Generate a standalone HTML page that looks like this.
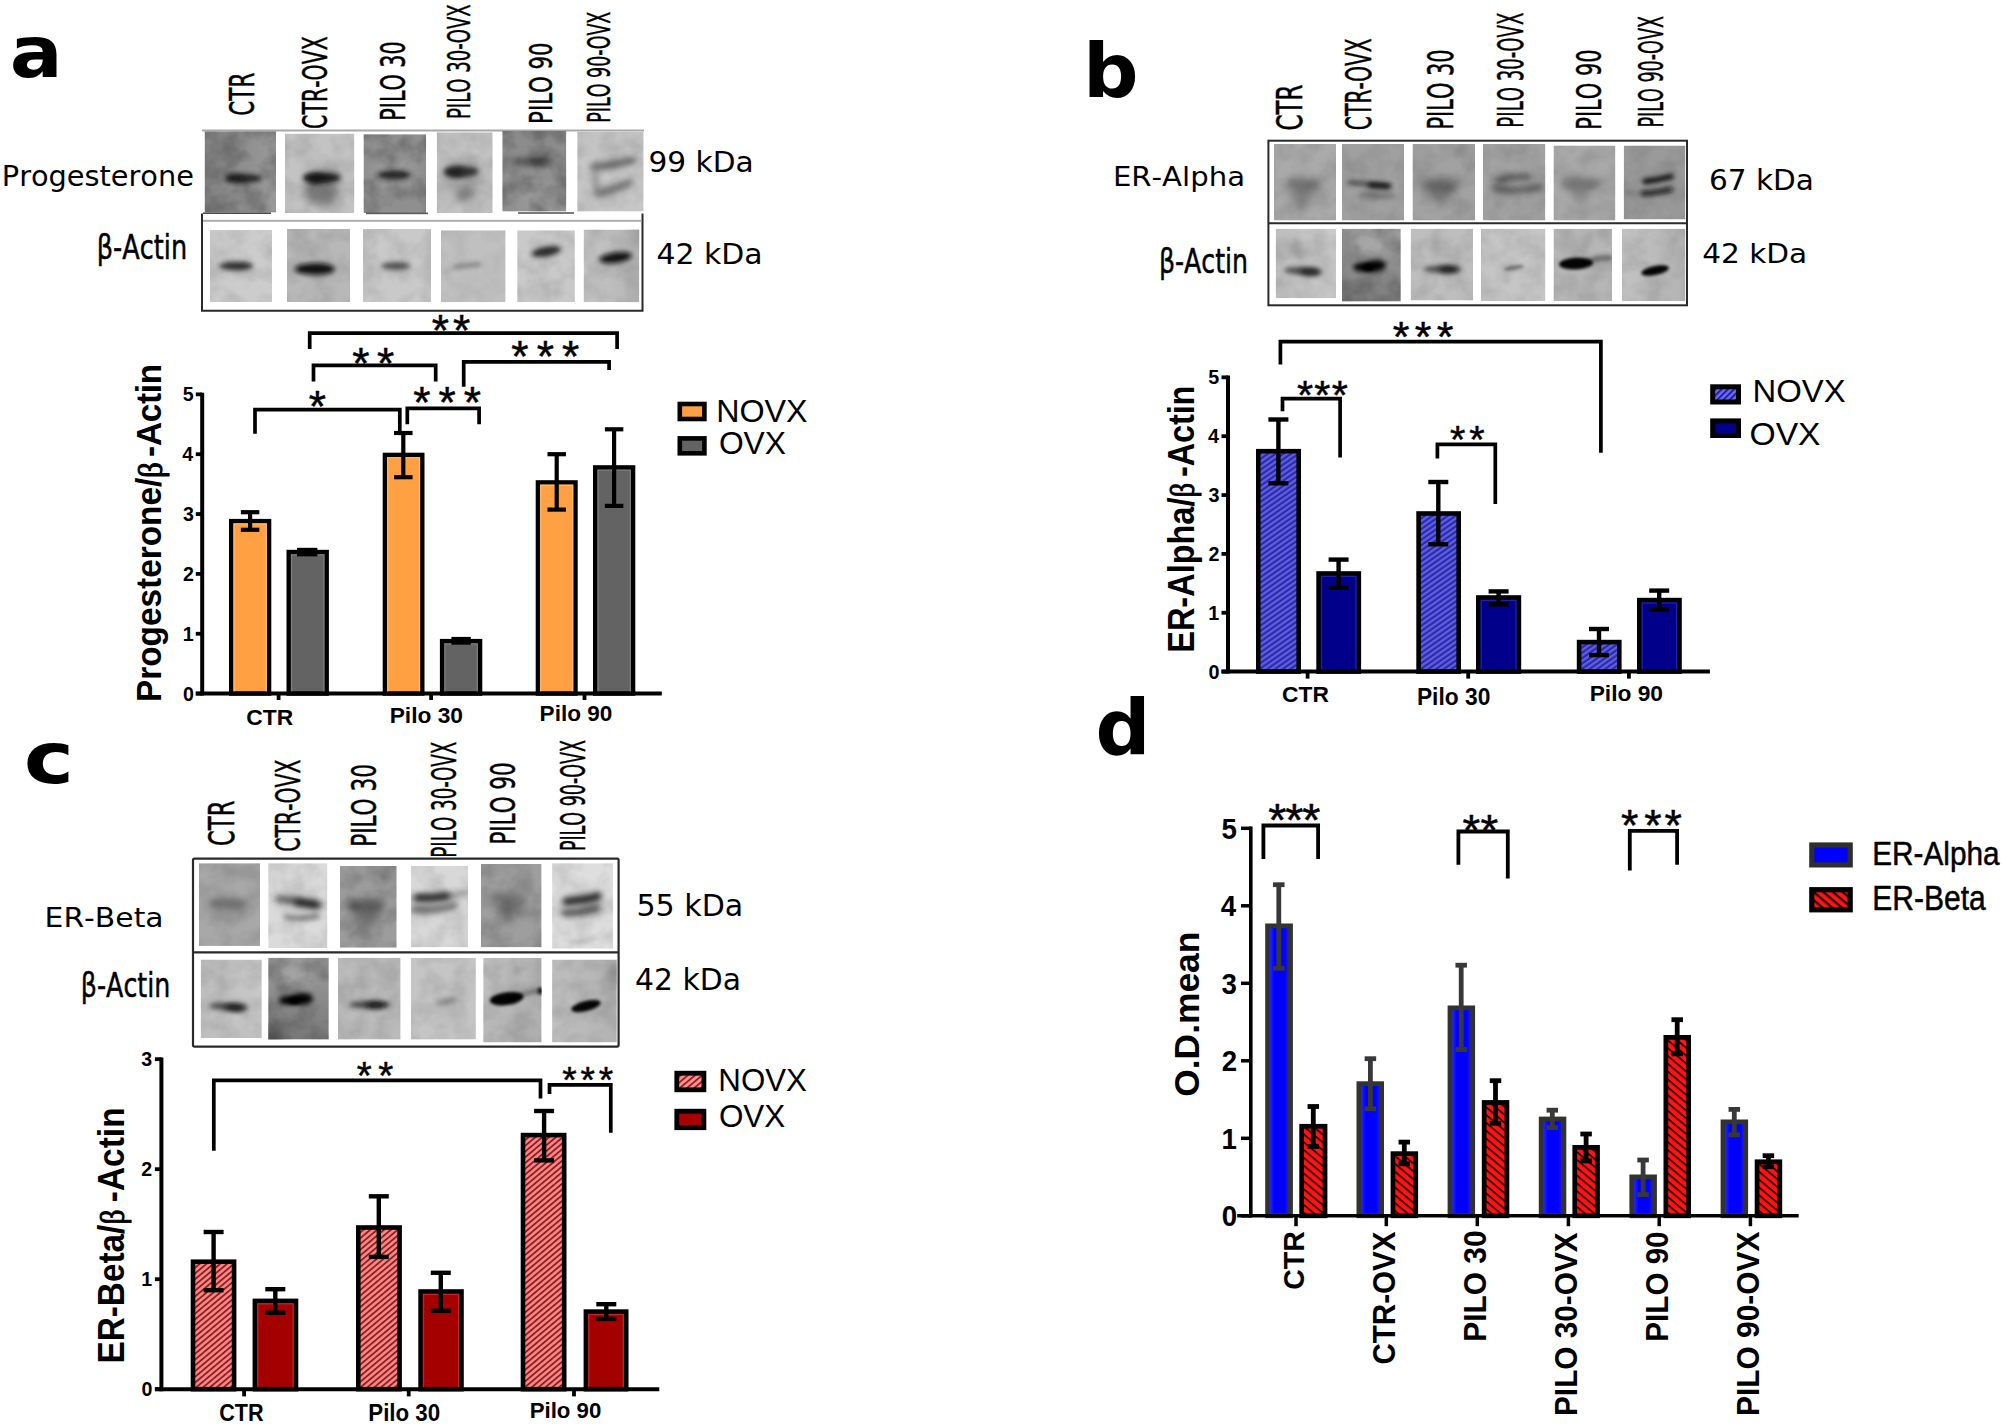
<!DOCTYPE html>
<html><head><meta charset="utf-8"><title>Figure</title>
<style>html,body{margin:0;padding:0;background:#fff;}svg{display:block;}text{font-kerning:none;font-variant-ligatures:none;white-space:pre;}</style></head>
<body>
<svg width="2004" height="1426" viewBox="0 0 2004 1426">
<defs>
<filter id="nz0" x="0" y="0" width="100%" height="100%" color-interpolation-filters="sRGB"><feTurbulence type="fractalNoise" baseFrequency="0.045 0.05" numOctaves="3" seed="2" result="t"/><feColorMatrix type="matrix" values="0 0 0 0 0  0 0 0 0 0  0 0 0 0 0  2.2 0 0 0 -0.75"/></filter>
<filter id="nz1" x="0" y="0" width="100%" height="100%" color-interpolation-filters="sRGB"><feTurbulence type="fractalNoise" baseFrequency="0.045 0.05" numOctaves="3" seed="9" result="t"/><feColorMatrix type="matrix" values="0 0 0 0 0  0 0 0 0 0  0 0 0 0 0  2.2 0 0 0 -0.75"/></filter>
<filter id="nz2" x="0" y="0" width="100%" height="100%" color-interpolation-filters="sRGB"><feTurbulence type="fractalNoise" baseFrequency="0.045 0.05" numOctaves="3" seed="16" result="t"/><feColorMatrix type="matrix" values="0 0 0 0 0  0 0 0 0 0  0 0 0 0 0  2.2 0 0 0 -0.75"/></filter>
<filter id="nz3" x="0" y="0" width="100%" height="100%" color-interpolation-filters="sRGB"><feTurbulence type="fractalNoise" baseFrequency="0.045 0.05" numOctaves="3" seed="23" result="t"/><feColorMatrix type="matrix" values="0 0 0 0 0  0 0 0 0 0  0 0 0 0 0  2.2 0 0 0 -0.75"/></filter>
<filter id="p1" x="-5%" y="-5%" width="110%" height="110%"><feGaussianBlur stdDeviation="0.8"/></filter>
<filter id="p2" x="-5%" y="-5%" width="110%" height="110%"><feGaussianBlur stdDeviation="1.6"/></filter>
<filter id="p3" x="-5%" y="-5%" width="110%" height="110%"><feGaussianBlur stdDeviation="2.4"/></filter>
<filter id="p4" x="-5%" y="-5%" width="110%" height="110%"><feGaussianBlur stdDeviation="3.2"/></filter>
<filter id="p5" x="-5%" y="-5%" width="110%" height="110%"><feGaussianBlur stdDeviation="4.0"/></filter>
<filter id="p6" x="-5%" y="-5%" width="110%" height="110%"><feGaussianBlur stdDeviation="4.8"/></filter>
<filter id="b1" x="-60%" y="-150%" width="220%" height="400%"><feGaussianBlur stdDeviation="0.8"/></filter>
<filter id="b2" x="-60%" y="-150%" width="220%" height="400%"><feGaussianBlur stdDeviation="1.6"/></filter>
<filter id="b3" x="-60%" y="-150%" width="220%" height="400%"><feGaussianBlur stdDeviation="2.4"/></filter>
<filter id="b4" x="-60%" y="-150%" width="220%" height="400%"><feGaussianBlur stdDeviation="3.2"/></filter>
<filter id="b5" x="-60%" y="-150%" width="220%" height="400%"><feGaussianBlur stdDeviation="4.0"/></filter>
<filter id="b6" x="-60%" y="-150%" width="220%" height="400%"><feGaussianBlur stdDeviation="4.8"/></filter>
<clipPath id="c1"><rect x="204.6" y="131.3" width="71.40" height="81.30"/></clipPath>
<linearGradient id="g1" x1="0" x2="1" y1="0" y2="0"><stop offset="0" stop-color="#808080"/><stop offset="1" stop-color="#9a9a9a"/></linearGradient>
<clipPath id="c2"><rect x="285" y="133.6" width="69.40" height="79.40"/></clipPath>
<clipPath id="c3"><rect x="363.5" y="134.2" width="62.60" height="78.80"/></clipPath>
<clipPath id="c4"><rect x="436.7" y="132.3" width="56.00" height="80.70"/></clipPath>
<clipPath id="c5"><rect x="502.3" y="131" width="64.00" height="80.60"/></clipPath>
<linearGradient id="g5" x1="0" x2="0" y1="0" y2="1"><stop offset="0" stop-color="#8a8a8a"/><stop offset="1" stop-color="#969696"/></linearGradient>
<clipPath id="c6"><rect x="577.2" y="131.7" width="66.40" height="79.90"/></clipPath>
<clipPath id="c7"><rect x="210" y="230" width="62.00" height="72.00"/></clipPath>
<clipPath id="c8"><rect x="287" y="229" width="63.00" height="73.00"/></clipPath>
<clipPath id="c9"><rect x="363" y="229" width="68.00" height="73.00"/></clipPath>
<clipPath id="c10"><rect x="441" y="230.3" width="64.60" height="71.90"/></clipPath>
<clipPath id="c11"><rect x="517.2" y="230.3" width="57.70" height="71.90"/></clipPath>
<clipPath id="c12"><rect x="583.6" y="229.6" width="55.70" height="72.60"/></clipPath>
<linearGradient id="g12" x1="0" x2="1" y1="0" y2="0"><stop offset="0" stop-color="#c6c6c6"/><stop offset="1" stop-color="#b4b4b4"/></linearGradient>
<clipPath id="c13"><rect x="1274" y="144" width="62.00" height="76.50"/></clipPath>
<clipPath id="c14"><rect x="1342" y="144" width="62.00" height="76.50"/></clipPath>
<clipPath id="c15"><rect x="1412.5" y="144" width="62.50" height="76.50"/></clipPath>
<clipPath id="c16"><rect x="1483" y="144" width="62.40" height="76.50"/></clipPath>
<clipPath id="c17"><rect x="1553.5" y="145.5" width="61.90" height="75.00"/></clipPath>
<clipPath id="c18"><rect x="1623.7" y="145.5" width="61.70" height="74.00"/></clipPath>
<clipPath id="c19"><rect x="1275.7" y="228.7" width="60.30" height="69.50"/></clipPath>
<linearGradient id="g19" x1="0" x2="1" y1="0" y2="0"><stop offset="0" stop-color="#bdbdbd"/><stop offset="1" stop-color="#cacaca"/></linearGradient>
<clipPath id="c20"><rect x="1342" y="228.7" width="58.80" height="72.80"/></clipPath>
<linearGradient id="g20" x1="0" x2="0" y1="0" y2="1"><stop offset="0" stop-color="#a0a0a0"/><stop offset="1" stop-color="#7c7c7c"/></linearGradient>
<clipPath id="c21"><rect x="1410.7" y="228.7" width="62.30" height="71.80"/></clipPath>
<clipPath id="c22"><rect x="1481" y="228.7" width="64.40" height="72.30"/></clipPath>
<clipPath id="c23"><rect x="1553.5" y="228.7" width="58.50" height="72.30"/></clipPath>
<clipPath id="c24"><rect x="1621.9" y="228.7" width="63.50" height="72.30"/></clipPath>
<linearGradient id="g24" x1="0" x2="1" y1="0" y2="0"><stop offset="0" stop-color="#c2c2c2"/><stop offset="1" stop-color="#b4b4b4"/></linearGradient>
<pattern id="hb" width="4.4" height="4.4" patternUnits="userSpaceOnUse" patternTransform="rotate(-35)"><rect width="4.4" height="4.4" fill="#2c2c96"/><rect y="0" width="4.4" height="2.3" fill="#5d5df2"/></pattern>
<pattern id="hbl" width="4.4" height="4.4" patternUnits="userSpaceOnUse" patternTransform="rotate(-45)"><rect width="4.4" height="4.4" fill="#6a6aff"/><rect y="0" width="4.4" height="2.0" fill="#20208a"/></pattern>
<clipPath id="c25"><rect x="198.9" y="863.2" width="61.10" height="82.70"/></clipPath>
<clipPath id="c26"><rect x="268.2" y="863.2" width="59.20" height="84.80"/></clipPath>
<clipPath id="c27"><rect x="340" y="865.9" width="56.70" height="81.80"/></clipPath>
<clipPath id="c28"><rect x="410.9" y="865.9" width="57.20" height="81.40"/></clipPath>
<clipPath id="c29"><rect x="481" y="863.9" width="60.60" height="83.40"/></clipPath>
<clipPath id="c30"><rect x="552.1" y="863.2" width="61.00" height="85.50"/></clipPath>
<clipPath id="c31"><rect x="200.7" y="959.6" width="61.10" height="78.40"/></clipPath>
<linearGradient id="g31" x1="0" x2="1" y1="0" y2="0"><stop offset="0" stop-color="#bdbdbd"/><stop offset="1" stop-color="#c8c8c8"/></linearGradient>
<clipPath id="c32"><rect x="268.2" y="957.8" width="60.60" height="81.80"/></clipPath>
<linearGradient id="g32" x1="0" x2="0" y1="0" y2="1"><stop offset="0" stop-color="#9c9c9c"/><stop offset="1" stop-color="#787878"/></linearGradient>
<clipPath id="c33"><rect x="337.9" y="957.8" width="62.70" height="81.80"/></clipPath>
<clipPath id="c34"><rect x="410.9" y="957.9" width="65.00" height="81.70"/></clipPath>
<clipPath id="c35"><rect x="483.2" y="957.9" width="58.40" height="84.50"/></clipPath>
<linearGradient id="g35" x1="0" x2="1" y1="0" y2="1"><stop offset="0" stop-color="#c2c2c2"/><stop offset="1" stop-color="#acacac"/></linearGradient>
<clipPath id="c36"><rect x="552.1" y="959.6" width="64.70" height="82.80"/></clipPath>
<linearGradient id="g36" x1="0" x2="1" y1="0" y2="0"><stop offset="0" stop-color="#c0c0c0"/><stop offset="1" stop-color="#b2b2b2"/></linearGradient>
<pattern id="hr" width="4.4" height="4.4" patternUnits="userSpaceOnUse" patternTransform="rotate(-40)"><rect width="4.4" height="4.4" fill="#f98686"/><rect y="0" width="4.4" height="1.8" fill="#8a2020"/></pattern>
<pattern id="hrl" width="4.6" height="4.6" patternUnits="userSpaceOnUse" patternTransform="rotate(-40)"><rect width="4.6" height="4.6" fill="#ff9090"/><rect y="0" width="4.6" height="1.7" fill="#8a1a1a"/></pattern>
<linearGradient id="gbl" x1="0" x2="1" y1="0" y2="0"><stop offset="0" stop-color="#3a3af2"/><stop offset="0.3" stop-color="#0000ff"/><stop offset="0.75" stop-color="#0000ff"/><stop offset="1" stop-color="#2a2ae0"/></linearGradient>
<pattern id="hd" width="6" height="6" patternUnits="userSpaceOnUse" patternTransform="rotate(40)"><rect width="6" height="6" fill="#ff1414"/><rect y="0" width="6" height="1.6" fill="#1a0000"/></pattern>
<pattern id="hdl" width="6.2" height="6.2" patternUnits="userSpaceOnUse" patternTransform="rotate(40)"><rect width="6.2" height="6.2" fill="#ff1414"/><rect y="0" width="6.2" height="2.2" fill="#1a0000"/></pattern>
</defs>
<rect width="2004" height="1426" fill="#fff"/>
<!-- panel a -->
<text transform="translate(9.63,77.29) scale(1.1041,1)" font-family="'DejaVu Sans', sans-serif" font-weight="bold" font-size="71.05" fill="#000" >a</text>
<text transform="translate(1.77,186.27) scale(1.0459,1)" font-family="'DejaVu Sans', sans-serif" font-weight="normal" font-size="27.53" fill="#000" >Progesterone</text>
<text transform="translate(96.75,258.86) scale(0.7497,1)" font-family="'DejaVu Sans', sans-serif" font-weight="normal" font-size="34.08" fill="#000"  stroke="#000" stroke-width="0.5" stroke-linejoin="round">β-Actin</text>
<text transform="translate(253.86,115.76) rotate(-90) scale(0.6237,1)" font-family="'DejaVu Sans', sans-serif" font-weight="normal" font-size="34.51" fill="#000"  stroke="#000" stroke-width="0.5" stroke-linejoin="round">CTR</text>
<text transform="translate(326.67,128.90) rotate(-90) scale(0.5981,1)" font-family="'DejaVu Sans', sans-serif" font-weight="normal" font-size="34.24" fill="#000"  stroke="#000" stroke-width="0.5" stroke-linejoin="round">CTR-OVX</text>
<text transform="translate(404.67,120.68) rotate(-90) scale(0.6162,1)" font-family="'DejaVu Sans', sans-serif" font-weight="normal" font-size="33.58" fill="#000"  stroke="#000" stroke-width="0.5" stroke-linejoin="round">PILO 30</text>
<text transform="translate(469.69,119.02) rotate(-90) scale(0.5533,1)" font-family="'DejaVu Sans', sans-serif" font-weight="normal" font-size="32.66" fill="#000"  stroke="#000" stroke-width="0.5" stroke-linejoin="round">PILO 30-OVX</text>
<text transform="translate(551.60,123.94) rotate(-90) scale(0.6702,1)" font-family="'DejaVu Sans', sans-serif" font-weight="normal" font-size="31.73" fill="#000"  stroke="#000" stroke-width="0.5" stroke-linejoin="round">PILO 90</text>
<text transform="translate(610.19,122.67) rotate(-90) scale(0.5334,1)" font-family="'DejaVu Sans', sans-serif" font-weight="normal" font-size="32.79" fill="#000"  stroke="#000" stroke-width="0.5" stroke-linejoin="round">PILO 90-OVX</text>
<text transform="translate(648.43,172.30) scale(1.0471,1)" font-family="'DejaVu Sans', sans-serif" font-weight="normal" font-size="28.30" fill="#000" >99 kDa</text>
<text transform="translate(656.54,264.49) scale(1.0373,1)" font-family="'DejaVu Sans', sans-serif" font-weight="normal" font-size="28.81" fill="#000" >42 kDa</text>
<rect x="202" y="129.5" width="442" height="2" fill="#a8a8a8"/>
<g clip-path="url(#c1)"><rect x="204.6" y="131.3" width="71.40" height="81.30" fill="url(#g1)"/><ellipse cx="243.6" cy="178.4" rx="18.5" ry="4.3" fill="#1c1c1c" opacity="0.92" filter="url(#b3)" transform="rotate(0 243.6 178.4)"/><ellipse cx="235" cy="178" rx="9" ry="4" fill="#111" opacity="0.5" filter="url(#b3)" transform="rotate(0 235 178)"/><rect x="204.6" y="131.3" width="71.40" height="81.30" filter="url(#nz1)" opacity="0.2"/></g>
<g clip-path="url(#c2)"><rect x="285" y="133.6" width="69.40" height="79.40" fill="#c3c3c3"/><ellipse cx="322" cy="172" rx="17" ry="9" fill="#9a9a9a" opacity="0.6" filter="url(#b5)" transform="rotate(0 322 172)"/><ellipse cx="322" cy="191" rx="17" ry="15" fill="#6e6e6e" opacity="0.85" filter="url(#b5)" transform="rotate(0 322 191)"/><ellipse cx="321.7" cy="177.8" rx="19" ry="5.2" fill="#161616" opacity="0.95" filter="url(#b3)" transform="rotate(0 321.7 177.8)"/><ellipse cx="315" cy="178.5" rx="9" ry="5" fill="#0c0c0c" opacity="0.6" filter="url(#b3)" transform="rotate(0 315 178.5)"/><rect x="285" y="133.6" width="69.40" height="79.40" filter="url(#nz2)" opacity="0.09"/></g>
<g clip-path="url(#c3)"><rect x="363.5" y="134.2" width="62.60" height="78.80" fill="#8f8f8f"/><ellipse cx="394" cy="172" rx="22" ry="26" fill="#a2a2a2" opacity="0.5" filter="url(#b6)" transform="rotate(0 394 172)"/><ellipse cx="394" cy="174.9" rx="17" ry="4.3" fill="#1e1e1e" opacity="0.93" filter="url(#b3)" transform="rotate(0 394 174.9)"/><rect x="363.5" y="134.2" width="62.60" height="78.80" filter="url(#nz3)" opacity="0.2"/></g>
<g clip-path="url(#c4)"><rect x="436.7" y="132.3" width="56.00" height="80.70" fill="#c1c1c1"/><ellipse cx="462" cy="176" rx="19" ry="17" fill="#8e8e8e" opacity="0.6" filter="url(#b5)" transform="rotate(0 462 176)"/><ellipse cx="465" cy="194.3" rx="10" ry="6" fill="#707070" opacity="0.8" filter="url(#b4)" transform="rotate(-15 465 194.3)"/><ellipse cx="461" cy="171.6" rx="17.5" ry="5.6" fill="#2c2c2c" opacity="0.92" filter="url(#b3)" transform="rotate(0 461 171.6)"/><ellipse cx="455" cy="172.4" rx="8.5" ry="5" fill="#141414" opacity="0.7" filter="url(#b3)" transform="rotate(0 455 172.4)"/><rect x="436.7" y="132.3" width="56.00" height="80.70" filter="url(#nz0)" opacity="0.09"/></g>
<g clip-path="url(#c5)"><rect x="502.3" y="131" width="64.00" height="80.60" fill="url(#g5)"/><ellipse cx="531.6" cy="161.6" rx="21" ry="4.4" fill="#484848" opacity="0.85" filter="url(#b4)" transform="rotate(0 531.6 161.6)"/><ellipse cx="537" cy="161.4" rx="8" ry="3.6" fill="#3a3a3a" opacity="0.7" filter="url(#b3)" transform="rotate(0 537 161.4)"/><ellipse cx="540" cy="195" rx="18" ry="10" fill="#a2a2a2" opacity="0.5" filter="url(#b5)" transform="rotate(0 540 195)"/><rect x="502.3" y="131" width="64.00" height="80.60" filter="url(#nz1)" opacity="0.22"/></g>
<g clip-path="url(#c6)"><rect x="577.2" y="131.7" width="66.40" height="79.90" fill="#c6c6c6"/><g filter="url(#p4)" opacity="0.8"><rect x="577.2" y="131.7" width="66.40" height="79.90" fill="none"/><path d="M594,167 Q612,166 632.5,160" fill="none" stroke="#4a4a4a" stroke-width="7" stroke-linecap="round"/></g><g filter="url(#p4)" opacity="0.8"><rect x="577.2" y="131.7" width="66.40" height="79.90" fill="none"/><path d="M598,193.5 Q612,190 630,182.5" fill="none" stroke="#585858" stroke-width="6.5" stroke-linecap="round"/></g><g filter="url(#p4)" opacity="0.6"><rect x="577.2" y="131.7" width="66.40" height="79.90" fill="none"/><path d="M595,168 Q594,182 599,193" fill="none" stroke="#808080" stroke-width="5" stroke-linecap="round"/></g><rect x="577.2" y="131.7" width="66.40" height="79.90" filter="url(#nz2)" opacity="0.09"/></g>
<polyline points="202,213.4 202,310.7 642.5,310.7 642.5,213.4" fill="none" stroke="#2a2a2a" stroke-width="2"/>
<rect x="203" y="219.8" width="438.5" height="2" fill="#adadad"/>
<rect x="203" y="212.4" width="68" height="1.6" fill="#4a4a4a"/>
<rect x="366" y="212.6" width="62" height="1.6" fill="#5a5a5a"/>
<rect x="518" y="212.2" width="56" height="1.6" fill="#5a5a5a"/>
<g clip-path="url(#c7)"><rect x="210" y="230" width="62.00" height="72.00" fill="#cccccc"/><ellipse cx="236.2" cy="266" rx="17" ry="4.5" fill="#2a2a2a" opacity="0.95" filter="url(#b3)" transform="rotate(0 236.2 266)"/><rect x="210" y="230" width="62.00" height="72.00" filter="url(#nz3)" opacity="0.09"/></g>
<g clip-path="url(#c8)"><rect x="287" y="229" width="63.00" height="73.00" fill="#b8b8b8"/><ellipse cx="314.8" cy="269" rx="20" ry="6" fill="#0e0e0e" opacity="0.97" filter="url(#b3)" transform="rotate(0 314.8 269)"/><rect x="287" y="229" width="63.00" height="73.00" filter="url(#nz0)" opacity="0.09"/></g>
<g clip-path="url(#c9)"><rect x="363" y="229" width="68.00" height="73.00" fill="#c9c9c9"/><ellipse cx="395.8" cy="266" rx="15" ry="4" fill="#444" opacity="0.9" filter="url(#b3)" transform="rotate(0 395.8 266)"/><rect x="363" y="229" width="68.00" height="73.00" filter="url(#nz1)" opacity="0.09"/></g>
<g clip-path="url(#c10)"><rect x="441" y="230.3" width="64.60" height="71.90" fill="#c0c0c0"/><g filter="url(#p3)" opacity="0.85"><rect x="441" y="230.3" width="64.60" height="71.90" fill="none"/><path d="M454.5,267 Q466,265.4 479.5,264.3" fill="none" stroke="#5e5e5e" stroke-width="3.2" stroke-linecap="round"/></g><ellipse cx="448" cy="271" rx="5" ry="2.5" fill="#a8a8a8" opacity="0.7" filter="url(#b3)" transform="rotate(-30 448 271)"/><rect x="441" y="230.3" width="64.60" height="71.90" filter="url(#nz2)" opacity="0.05"/></g>
<g clip-path="url(#c11)"><rect x="517.2" y="230.3" width="57.70" height="71.90" fill="#c9c9c9"/><ellipse cx="546.3" cy="251.6" rx="15" ry="4.8" fill="#202020" opacity="0.95" filter="url(#b3)" transform="rotate(-10 546.3 251.6)"/><rect x="517.2" y="230.3" width="57.70" height="71.90" filter="url(#nz3)" opacity="0.09"/></g>
<g clip-path="url(#c12)"><rect x="583.6" y="229.6" width="55.70" height="72.60" fill="url(#g12)"/><ellipse cx="636" cy="238" rx="8" ry="12" fill="#9a9a9a" opacity="0.6" filter="url(#b5)" transform="rotate(0 636 238)"/><ellipse cx="615.6" cy="257.6" rx="16.5" ry="5.4" fill="#0a0a0a" opacity="0.97" filter="url(#b3)" transform="rotate(-8 615.6 257.6)"/><rect x="583.6" y="229.6" width="55.70" height="72.60" filter="url(#nz0)" opacity="0.09"/></g>
<rect x="231.20" y="521.10" width="37.90" height="172.50" fill="#FFA142" stroke="#000" stroke-width="4.4"/>
<rect x="234.00" y="523.90" width="32.30" height="169.70" fill="none" stroke="#ffc27e" stroke-width="1.3" opacity="0.75"/>
<rect x="288.70" y="552.00" width="38.00" height="141.60" fill="#636363" stroke="#000" stroke-width="4.4"/>
<rect x="291.50" y="554.80" width="32.40" height="138.80" fill="none" stroke="#858585" stroke-width="1.3" opacity="0.75"/>
<rect x="384.90" y="454.90" width="37.40" height="238.70" fill="#FFA142" stroke="#000" stroke-width="4.4"/>
<rect x="387.70" y="457.70" width="31.80" height="235.90" fill="none" stroke="#ffc27e" stroke-width="1.3" opacity="0.75"/>
<rect x="442.10" y="641.10" width="38.00" height="52.50" fill="#636363" stroke="#000" stroke-width="4.4"/>
<rect x="444.90" y="643.90" width="32.40" height="49.70" fill="none" stroke="#858585" stroke-width="1.3" opacity="0.75"/>
<rect x="537.90" y="482.40" width="37.60" height="211.20" fill="#FFA142" stroke="#000" stroke-width="4.4"/>
<rect x="540.70" y="485.20" width="32.00" height="208.40" fill="none" stroke="#ffc27e" stroke-width="1.3" opacity="0.75"/>
<rect x="595.20" y="467.40" width="37.90" height="226.20" fill="#636363" stroke="#000" stroke-width="4.4"/>
<rect x="598.00" y="470.20" width="32.30" height="223.40" fill="none" stroke="#858585" stroke-width="1.3" opacity="0.75"/>
<line x1="250.10" y1="512.20" x2="250.10" y2="529.80" stroke="#000" stroke-width="4.2" stroke-linecap="butt"/>
<line x1="240.85" y1="512.20" x2="259.35" y2="512.20" stroke="#000" stroke-width="4.2" stroke-linecap="butt"/>
<line x1="240.85" y1="529.80" x2="259.35" y2="529.80" stroke="#000" stroke-width="4.2" stroke-linecap="butt"/>
<line x1="403.30" y1="433.00" x2="403.30" y2="477.20" stroke="#000" stroke-width="4.2" stroke-linecap="butt"/>
<line x1="394.05" y1="433.00" x2="412.55" y2="433.00" stroke="#000" stroke-width="4.2" stroke-linecap="butt"/>
<line x1="394.05" y1="477.20" x2="412.55" y2="477.20" stroke="#000" stroke-width="4.2" stroke-linecap="butt"/>
<line x1="556.70" y1="454.20" x2="556.70" y2="509.60" stroke="#000" stroke-width="4.2" stroke-linecap="butt"/>
<line x1="547.45" y1="454.20" x2="565.95" y2="454.20" stroke="#000" stroke-width="4.2" stroke-linecap="butt"/>
<line x1="547.45" y1="509.60" x2="565.95" y2="509.60" stroke="#000" stroke-width="4.2" stroke-linecap="butt"/>
<line x1="614.10" y1="429.30" x2="614.10" y2="505.90" stroke="#000" stroke-width="4.2" stroke-linecap="butt"/>
<line x1="604.85" y1="429.30" x2="623.35" y2="429.30" stroke="#000" stroke-width="4.2" stroke-linecap="butt"/>
<line x1="604.85" y1="505.90" x2="623.35" y2="505.90" stroke="#000" stroke-width="4.2" stroke-linecap="butt"/>
<rect x="297" y="547.8" width="20.4" height="8.6" fill="#000"/>
<rect x="451.4" y="636.9" width="19.4" height="7.8" fill="#000"/>
<line x1="202.20" y1="392.80" x2="202.20" y2="695.60" stroke="#000" stroke-width="4.0" stroke-linecap="butt"/>
<line x1="195.80" y1="693.60" x2="661.80" y2="693.60" stroke="#000" stroke-width="4.0" stroke-linecap="butt"/>
<line x1="195.80" y1="693.60" x2="202.20" y2="693.60" stroke="#000" stroke-width="3.8" stroke-linecap="butt"/>
<text transform="translate(182.99,700.50) scale(1.0000,1)" font-family="'Liberation Sans', sans-serif" font-weight="bold" font-size="19.63" fill="#000">0</text>
<line x1="195.80" y1="633.75" x2="202.20" y2="633.75" stroke="#000" stroke-width="3.8" stroke-linecap="butt"/>
<text transform="translate(182.73,640.65) scale(1.0000,1)" font-family="'Liberation Sans', sans-serif" font-weight="bold" font-size="19.63" fill="#000">1</text>
<line x1="195.80" y1="573.90" x2="202.20" y2="573.90" stroke="#000" stroke-width="3.8" stroke-linecap="butt"/>
<text transform="translate(182.97,580.80) scale(1.0000,1)" font-family="'Liberation Sans', sans-serif" font-weight="bold" font-size="19.63" fill="#000">2</text>
<line x1="195.80" y1="514.05" x2="202.20" y2="514.05" stroke="#000" stroke-width="3.8" stroke-linecap="butt"/>
<text transform="translate(182.89,520.95) scale(1.0000,1)" font-family="'Liberation Sans', sans-serif" font-weight="bold" font-size="19.63" fill="#000">3</text>
<line x1="195.80" y1="454.20" x2="202.20" y2="454.20" stroke="#000" stroke-width="3.8" stroke-linecap="butt"/>
<text transform="translate(182.29,461.10) scale(1.0000,1)" font-family="'Liberation Sans', sans-serif" font-weight="bold" font-size="19.63" fill="#000">4</text>
<line x1="195.80" y1="394.35" x2="202.20" y2="394.35" stroke="#000" stroke-width="3.8" stroke-linecap="butt"/>
<text transform="translate(182.73,401.25) scale(1.0000,1)" font-family="'Liberation Sans', sans-serif" font-weight="bold" font-size="19.63" fill="#000">5</text>
<line x1="278.60" y1="693.60" x2="278.60" y2="700.00" stroke="#000" stroke-width="3.8" stroke-linecap="butt"/>
<line x1="431.10" y1="693.60" x2="431.10" y2="700.00" stroke="#000" stroke-width="3.8" stroke-linecap="butt"/>
<line x1="584.50" y1="693.60" x2="584.50" y2="700.00" stroke="#000" stroke-width="3.8" stroke-linecap="butt"/>
<text transform="translate(246.36,724.98) scale(0.9974,1)" font-family="'Liberation Sans', sans-serif" font-weight="bold" font-size="22.88" fill="#000" >CTR</text>
<text transform="translate(389.68,723.44) scale(0.9967,1)" font-family="'Liberation Sans', sans-serif" font-weight="bold" font-size="22.83" fill="#000" >Pilo 30</text>
<text transform="translate(539.59,721.18) scale(1.0042,1)" font-family="'Liberation Sans', sans-serif" font-weight="bold" font-size="22.47" fill="#000" >Pilo 90</text>
<text transform="translate(161.40,702.03) rotate(-90) scale(0.9332,1)" font-family="'Liberation Sans', sans-serif" font-weight="bold" font-size="35.76" fill="#000"><tspan x="0" y="0">Progesterone/</tspan><tspan x="240.19" y="0.22" font-family="'Liberation Serif', serif" font-weight="normal" font-size="33.26" stroke="#000" stroke-width="1.0">β</tspan><tspan x="262.69" y="0" letter-spacing="-0.312">-Actin</tspan></text>
<polyline points="309.70,348.90 309.70,333.20 617.10,333.20 617.10,348.90" fill="none" stroke="#000" stroke-width="3.7" stroke-linejoin="miter"/>
<text transform="translate(431.74,346.12) scale(1.0025,1)" font-family="'Liberation Sans', sans-serif" font-weight="normal" font-size="44.15" fill="#000"  stroke="#000" stroke-width="0.5" stroke-linejoin="round">*</text>
<text transform="translate(452.92,346.12) scale(1.0025,1)" font-family="'Liberation Sans', sans-serif" font-weight="normal" font-size="44.15" fill="#000"  stroke="#000" stroke-width="0.5" stroke-linejoin="round">*</text>
<polyline points="313.50,381.40 313.50,365.40 435.70,365.40 435.70,381.40" fill="none" stroke="#000" stroke-width="3.7" stroke-linejoin="miter"/>
<text transform="translate(352.24,378.52) scale(1.0025,1)" font-family="'Liberation Sans', sans-serif" font-weight="normal" font-size="44.15" fill="#000"  stroke="#000" stroke-width="0.5" stroke-linejoin="round">*</text>
<text transform="translate(377.02,378.52) scale(1.0025,1)" font-family="'Liberation Sans', sans-serif" font-weight="normal" font-size="44.15" fill="#000"  stroke="#000" stroke-width="0.5" stroke-linejoin="round">*</text>
<polyline points="463.70,386.80 463.70,361.90 609.10,361.90 609.10,370.00" fill="none" stroke="#000" stroke-width="3.7" stroke-linejoin="miter"/>
<text transform="translate(511.34,371.62) scale(1.0025,1)" font-family="'Liberation Sans', sans-serif" font-weight="normal" font-size="44.15" fill="#000"  stroke="#000" stroke-width="0.5" stroke-linejoin="round">*</text>
<text transform="translate(536.63,371.62) scale(1.0025,1)" font-family="'Liberation Sans', sans-serif" font-weight="normal" font-size="44.15" fill="#000"  stroke="#000" stroke-width="0.5" stroke-linejoin="round">*</text>
<text transform="translate(561.92,371.62) scale(1.0025,1)" font-family="'Liberation Sans', sans-serif" font-weight="normal" font-size="44.15" fill="#000"  stroke="#000" stroke-width="0.5" stroke-linejoin="round">*</text>
<polyline points="255.00,433.70 255.00,409.60 399.80,409.60 399.80,433.00" fill="none" stroke="#000" stroke-width="3.7" stroke-linejoin="miter"/>
<text transform="translate(308.68,421.92) scale(1.0025,1)" font-family="'Liberation Sans', sans-serif" font-weight="normal" font-size="44.15" fill="#000"  stroke="#000" stroke-width="0.5" stroke-linejoin="round">*</text>
<polyline points="407.30,424.30 407.30,408.30 479.10,408.30 479.10,424.30" fill="none" stroke="#000" stroke-width="3.7" stroke-linejoin="miter"/>
<text transform="translate(413.34,418.42) scale(1.0025,1)" font-family="'Liberation Sans', sans-serif" font-weight="normal" font-size="44.15" fill="#000"  stroke="#000" stroke-width="0.5" stroke-linejoin="round">*</text>
<text transform="translate(438.58,418.42) scale(1.0025,1)" font-family="'Liberation Sans', sans-serif" font-weight="normal" font-size="44.15" fill="#000"  stroke="#000" stroke-width="0.5" stroke-linejoin="round">*</text>
<text transform="translate(463.82,418.42) scale(1.0025,1)" font-family="'Liberation Sans', sans-serif" font-weight="normal" font-size="44.15" fill="#000"  stroke="#000" stroke-width="0.5" stroke-linejoin="round">*</text>
<rect x="679.8" y="404" width="24.6" height="15" fill="#FFA142" stroke="#000" stroke-width="4.6"/>
<rect x="679.8" y="438.4" width="24.6" height="14.9" fill="#636363" stroke="#000" stroke-width="4.6"/>
<text transform="translate(716.15,421.50) scale(1.0429,1)" font-family="'Liberation Sans', sans-serif" font-weight="normal" font-size="30.93" fill="#000" >NOVX</text>
<text transform="translate(718.90,454.10) scale(1.0175,1)" font-family="'Liberation Sans', sans-serif" font-weight="normal" font-size="31.21" fill="#000" >OVX</text>
<!-- panel b -->
<text transform="translate(1082.97,97.25) scale(1.0494,1)" font-family="'DejaVu Sans', sans-serif" font-weight="bold" font-size="74.04" fill="#000" >b</text>
<text transform="translate(1112.94,185.85) scale(1.0730,1)" font-family="'DejaVu Sans', sans-serif" font-weight="normal" font-size="27.18" fill="#000" >ER-Alpha</text>
<text transform="translate(1158.89,273.35) scale(0.7607,1)" font-family="'DejaVu Sans', sans-serif" font-weight="normal" font-size="33.16" fill="#000"  stroke="#000" stroke-width="0.5" stroke-linejoin="round">β-Actin</text>
<text transform="translate(1301.86,130.44) rotate(-90) scale(0.6584,1)" font-family="'DejaVu Sans', sans-serif" font-weight="normal" font-size="34.90" fill="#000"  stroke="#000" stroke-width="0.5" stroke-linejoin="round">CTR</text>
<text transform="translate(1371.25,130.29) rotate(-90) scale(0.5754,1)" font-family="'DejaVu Sans', sans-serif" font-weight="normal" font-size="35.43" fill="#000"  stroke="#000" stroke-width="0.5" stroke-linejoin="round">CTR-OVX</text>
<text transform="translate(1453.36,129.50) rotate(-90) scale(0.5991,1)" font-family="'DejaVu Sans', sans-serif" font-weight="normal" font-size="34.90" fill="#000"  stroke="#000" stroke-width="0.5" stroke-linejoin="round">PILO 30</text>
<text transform="translate(1522.75,127.63) rotate(-90) scale(0.5090,1)" font-family="'DejaVu Sans', sans-serif" font-weight="normal" font-size="35.57" fill="#000"  stroke="#000" stroke-width="0.5" stroke-linejoin="round">PILO 30-OVX</text>
<text transform="translate(1601.28,129.71) rotate(-90) scale(0.6268,1)" font-family="'DejaVu Sans', sans-serif" font-weight="normal" font-size="33.45" fill="#000"  stroke="#000" stroke-width="0.5" stroke-linejoin="round">PILO 90</text>
<text transform="translate(1663.17,127.58) rotate(-90) scale(0.5136,1)" font-family="'DejaVu Sans', sans-serif" font-weight="normal" font-size="34.24" fill="#000"  stroke="#000" stroke-width="0.5" stroke-linejoin="round">PILO 90-OVX</text>
<text transform="translate(1708.94,190.31) scale(1.0745,1)" font-family="'DejaVu Sans', sans-serif" font-weight="normal" font-size="27.52" fill="#000" >67 kDa</text>
<text transform="translate(1702.15,262.61) scale(1.0856,1)" font-family="'DejaVu Sans', sans-serif" font-weight="normal" font-size="27.26" fill="#000" >42 kDa</text>
<rect x="1268.4" y="140.7" width="418.6" height="164.6" fill="#fff" stroke="#2a2a2a" stroke-width="2"/>
<line x1="1268.40" y1="223.20" x2="1687.00" y2="223.20" stroke="#2a2a2a" stroke-width="2" stroke-linecap="butt"/>
<g clip-path="url(#c13)"><rect x="1274" y="144" width="62.00" height="76.50" fill="#aaaaaa"/><g filter="url(#p5)" opacity="0.7"><rect x="1274" y="144" width="62.00" height="76.50" fill="none"/><polygon points="1285,179 1323,179 1312,196 1301,214 1292,196" fill="#6c6c6c"/></g><ellipse cx="1304" cy="184.5" rx="17" ry="4" fill="#6a6a6a" opacity="0.5" filter="url(#b4)" transform="rotate(0 1304 184.5)"/><rect x="1274" y="144" width="62.00" height="76.50" filter="url(#nz1)" opacity="0.09"/></g>
<g clip-path="url(#c14)"><rect x="1342" y="144" width="62.00" height="76.50" fill="#a0a0a0"/><ellipse cx="1377" cy="195.2" rx="19" ry="4" fill="#707070" opacity="0.8" filter="url(#b3)" transform="rotate(2 1377 195.2)"/><g filter="url(#p3)" opacity="0.9"><rect x="1342" y="144" width="62.00" height="76.50" fill="none"/><path d="M1349,182.5 Q1368,184 1390,186" fill="none" stroke="#2a2a2a" stroke-width="3.4" stroke-linecap="round"/></g><g filter="url(#p3)" opacity="0.95"><rect x="1342" y="144" width="62.00" height="76.50" fill="none"/><path d="M1370,185 L1388,186.2" fill="none" stroke="#000" stroke-width="4.4" stroke-linecap="round"/></g><rect x="1342" y="144" width="62.00" height="76.50" filter="url(#nz2)" opacity="0.09"/></g>
<g clip-path="url(#c15)"><rect x="1412.5" y="144" width="62.50" height="76.50" fill="#a2a2a2"/><g filter="url(#p5)" opacity="0.65"><rect x="1412.5" y="144" width="62.50" height="76.50" fill="none"/><polygon points="1418,178 1462,178 1452,194 1441,206 1429,194" fill="#666"/></g><ellipse cx="1440" cy="186" rx="19" ry="5" fill="#5e5e5e" opacity="0.6" filter="url(#b4)" transform="rotate(0 1440 186)"/><ellipse cx="1461" cy="152" rx="8" ry="6" fill="#8a8a8a" opacity="0.6" filter="url(#b4)" transform="rotate(0 1461 152)"/><rect x="1412.5" y="144" width="62.50" height="76.50" filter="url(#nz3)" opacity="0.09"/></g>
<g clip-path="url(#c16)"><rect x="1483" y="144" width="62.40" height="76.50" fill="#a2a2a2"/><g filter="url(#p4)" opacity="0.85"><rect x="1483" y="144" width="62.40" height="76.50" fill="none"/><path d="M1498,180 Q1514,176 1529,177" fill="none" stroke="#303030" stroke-width="5" stroke-linecap="round"/></g><g filter="url(#p4)" opacity="0.85"><rect x="1483" y="144" width="62.40" height="76.50" fill="none"/><path d="M1494,188 Q1512,193 1540,187" fill="none" stroke="#4c4c4c" stroke-width="6" stroke-linecap="round"/></g><rect x="1483" y="144" width="62.40" height="76.50" filter="url(#nz0)" opacity="0.09"/></g>
<g clip-path="url(#c17)"><rect x="1553.5" y="145.5" width="61.90" height="75.00" fill="#a9a9a9"/><g filter="url(#p5)" opacity="0.7"><rect x="1553.5" y="145.5" width="61.90" height="75.00" fill="none"/><polygon points="1560,178 1602,178 1592,192 1580,204 1569,192" fill="#808080"/></g><ellipse cx="1580.5" cy="184" rx="20" ry="5.5" fill="#6e6e6e" opacity="0.75" filter="url(#b4)" transform="rotate(0 1580.5 184)"/><rect x="1553.5" y="145.5" width="61.90" height="75.00" filter="url(#nz1)" opacity="0.09"/></g>
<g clip-path="url(#c18)"><rect x="1623.7" y="145.5" width="61.70" height="74.00" fill="#9a9a9a"/><g filter="url(#p3)" opacity="0.97"><rect x="1623.7" y="145.5" width="61.70" height="74.00" fill="none"/><path d="M1645,181.5 Q1658,180 1671,176.5" fill="none" stroke="#000" stroke-width="5.4" stroke-linecap="round"/></g><g filter="url(#p3)" opacity="0.95"><rect x="1623.7" y="145.5" width="61.70" height="74.00" fill="none"/><path d="M1643,193.5 Q1656,193 1670,189.5" fill="none" stroke="#0c0c0c" stroke-width="5.4" stroke-linecap="round"/></g><ellipse cx="1632" cy="193" rx="8" ry="2" fill="#666" opacity="0.6" filter="url(#b3)" transform="rotate(0 1632 193)"/><rect x="1623.7" y="145.5" width="61.70" height="74.00" filter="url(#nz2)" opacity="0.09"/></g>
<g clip-path="url(#c19)"><rect x="1275.7" y="228.7" width="60.30" height="69.50" fill="url(#g19)"/><ellipse cx="1298" cy="250" rx="6" ry="12" fill="#a4a4a4" opacity="0.8" filter="url(#b4)" transform="rotate(-20 1298 250)"/><ellipse cx="1303" cy="271" rx="19" ry="3.8" fill="#3a3a3a" opacity="0.9" filter="url(#b3)" transform="rotate(3 1303 271)"/><ellipse cx="1310" cy="272" rx="10" ry="3.4" fill="#181818" opacity="0.8" filter="url(#b3)" transform="rotate(3 1310 272)"/><rect x="1275.7" y="228.7" width="60.30" height="69.50" filter="url(#nz3)" opacity="0.09"/></g>
<g clip-path="url(#c20)"><rect x="1342" y="228.7" width="58.80" height="72.80" fill="url(#g20)"/><ellipse cx="1372" cy="245" rx="18" ry="10" fill="#b0b0b0" opacity="0.6" filter="url(#b5)" transform="rotate(0 1372 245)"/><ellipse cx="1361.5" cy="267.2" rx="8.5" ry="4.4" fill="#000" opacity="0.98" filter="url(#b3)" transform="rotate(0 1361.5 267.2)"/><ellipse cx="1375" cy="265.8" rx="11" ry="5.8" fill="#000" opacity="0.98" filter="url(#b3)" transform="rotate(-5 1375 265.8)"/><ellipse cx="1368" cy="267.4" rx="6" ry="3.6" fill="#000" opacity="0.95" filter="url(#b2)" transform="rotate(0 1368 267.4)"/><rect x="1342" y="228.7" width="58.80" height="72.80" filter="url(#nz0)" opacity="0.18"/></g>
<g clip-path="url(#c21)"><rect x="1410.7" y="228.7" width="62.30" height="71.80" fill="#bebebe"/><ellipse cx="1436" cy="248" rx="5" ry="14" fill="#aaa" opacity="0.7" filter="url(#b4)" transform="rotate(0 1436 248)"/><ellipse cx="1442.5" cy="269.2" rx="19" ry="3.6" fill="#3c3c3c" opacity="0.9" filter="url(#b3)" transform="rotate(0 1442.5 269.2)"/><ellipse cx="1448.5" cy="269.6" rx="10" ry="3.2" fill="#161616" opacity="0.85" filter="url(#b3)" transform="rotate(0 1448.5 269.6)"/><rect x="1410.7" y="228.7" width="62.30" height="71.80" filter="url(#nz1)" opacity="0.09"/></g>
<g clip-path="url(#c22)"><rect x="1481" y="228.7" width="64.40" height="72.30" fill="#c5c5c5"/><ellipse cx="1514" cy="267.7" rx="10" ry="2.5" fill="#6e6e6e" opacity="0.85" filter="url(#b2)" transform="rotate(-10 1514 267.7)"/><rect x="1481" y="228.7" width="64.40" height="72.30" filter="url(#nz2)" opacity="0.09"/></g>
<g clip-path="url(#c23)"><rect x="1553.5" y="228.7" width="58.50" height="72.30" fill="#b6b6b6"/><ellipse cx="1588" cy="240" rx="4" ry="10" fill="#999" opacity="0.6" filter="url(#b3)" transform="rotate(20 1588 240)"/><g filter="url(#p3)" opacity="0.85"><rect x="1553.5" y="228.7" width="58.50" height="72.30" fill="none"/><path d="M1590,261 Q1600,257 1611,258" fill="none" stroke="#2a2a2a" stroke-width="3.5" stroke-linecap="round"/></g><ellipse cx="1576" cy="263.6" rx="17" ry="6" fill="#000" opacity="0.98" filter="url(#b2)" transform="rotate(-3 1576 263.6)"/><rect x="1553.5" y="228.7" width="58.50" height="72.30" filter="url(#nz3)" opacity="0.09"/></g>
<g clip-path="url(#c24)"><rect x="1621.9" y="228.7" width="63.50" height="72.30" fill="url(#g24)"/><ellipse cx="1655.1" cy="270.5" rx="14" ry="4.5" fill="#050505" opacity="0.97" filter="url(#b2)" transform="rotate(-12 1655.1 270.5)"/><rect x="1621.9" y="228.7" width="63.50" height="72.30" filter="url(#nz0)" opacity="0.09"/></g>
<rect x="1258.30" y="451.20" width="40.40" height="220.40" fill="url(#hb)" stroke="#000" stroke-width="4.6"/>
<rect x="1318.60" y="573.50" width="40.20" height="98.10" fill="#00008B" stroke="#000" stroke-width="4.6"/>
<rect x="1321.50" y="576.40" width="34.40" height="95.20" fill="none" stroke="#2c2cae" stroke-width="1.3" opacity="0.75"/>
<rect x="1418.60" y="513.50" width="40.10" height="158.10" fill="url(#hb)" stroke="#000" stroke-width="4.6"/>
<rect x="1478.30" y="597.50" width="40.60" height="74.10" fill="#00008B" stroke="#000" stroke-width="4.6"/>
<rect x="1481.20" y="600.40" width="34.80" height="71.20" fill="none" stroke="#2c2cae" stroke-width="1.3" opacity="0.75"/>
<rect x="1579.10" y="642.10" width="40.20" height="29.50" fill="url(#hb)" stroke="#000" stroke-width="4.6"/>
<rect x="1639.30" y="600.10" width="40.20" height="71.50" fill="#00008B" stroke="#000" stroke-width="4.6"/>
<rect x="1642.20" y="603.00" width="34.40" height="68.60" fill="none" stroke="#2c2cae" stroke-width="1.3" opacity="0.75"/>
<line x1="1278.40" y1="419.50" x2="1278.40" y2="483.30" stroke="#000" stroke-width="4.4" stroke-linecap="butt"/>
<line x1="1268.40" y1="419.50" x2="1288.40" y2="419.50" stroke="#000" stroke-width="4.4" stroke-linecap="butt"/>
<line x1="1268.40" y1="483.30" x2="1288.40" y2="483.30" stroke="#000" stroke-width="4.4" stroke-linecap="butt"/>
<line x1="1338.60" y1="559.60" x2="1338.60" y2="587.70" stroke="#000" stroke-width="4.4" stroke-linecap="butt"/>
<line x1="1328.60" y1="559.60" x2="1348.60" y2="559.60" stroke="#000" stroke-width="4.4" stroke-linecap="butt"/>
<line x1="1328.60" y1="587.70" x2="1348.60" y2="587.70" stroke="#000" stroke-width="4.4" stroke-linecap="butt"/>
<line x1="1438.30" y1="482.00" x2="1438.30" y2="544.30" stroke="#000" stroke-width="4.4" stroke-linecap="butt"/>
<line x1="1428.30" y1="482.00" x2="1448.30" y2="482.00" stroke="#000" stroke-width="4.4" stroke-linecap="butt"/>
<line x1="1428.30" y1="544.30" x2="1448.30" y2="544.30" stroke="#000" stroke-width="4.4" stroke-linecap="butt"/>
<line x1="1498.60" y1="591.40" x2="1498.60" y2="604.40" stroke="#000" stroke-width="4.4" stroke-linecap="butt"/>
<line x1="1488.60" y1="591.40" x2="1508.60" y2="591.40" stroke="#000" stroke-width="4.4" stroke-linecap="butt"/>
<line x1="1488.60" y1="604.40" x2="1508.60" y2="604.40" stroke="#000" stroke-width="4.4" stroke-linecap="butt"/>
<line x1="1599.00" y1="629.00" x2="1599.00" y2="655.10" stroke="#000" stroke-width="4.4" stroke-linecap="butt"/>
<line x1="1589.00" y1="629.00" x2="1609.00" y2="629.00" stroke="#000" stroke-width="4.4" stroke-linecap="butt"/>
<line x1="1589.00" y1="655.10" x2="1609.00" y2="655.10" stroke="#000" stroke-width="4.4" stroke-linecap="butt"/>
<line x1="1659.20" y1="590.60" x2="1659.20" y2="609.40" stroke="#000" stroke-width="4.4" stroke-linecap="butt"/>
<line x1="1649.20" y1="590.60" x2="1669.20" y2="590.60" stroke="#000" stroke-width="4.4" stroke-linecap="butt"/>
<line x1="1649.20" y1="609.40" x2="1669.20" y2="609.40" stroke="#000" stroke-width="4.4" stroke-linecap="butt"/>
<line x1="1228.00" y1="375.60" x2="1228.00" y2="673.60" stroke="#000" stroke-width="4.0" stroke-linecap="butt"/>
<line x1="1221.50" y1="671.60" x2="1709.90" y2="671.60" stroke="#000" stroke-width="4.0" stroke-linecap="butt"/>
<line x1="1221.50" y1="671.60" x2="1228.00" y2="671.60" stroke="#000" stroke-width="3.8" stroke-linecap="butt"/>
<text transform="translate(1208.61,678.60) scale(1.0000,1)" font-family="'Liberation Sans', sans-serif" font-weight="bold" font-size="19.77" fill="#000">0</text>
<line x1="1221.50" y1="612.75" x2="1228.00" y2="612.75" stroke="#000" stroke-width="3.8" stroke-linecap="butt"/>
<text transform="translate(1208.35,619.75) scale(1.0000,1)" font-family="'Liberation Sans', sans-serif" font-weight="bold" font-size="19.77" fill="#000">1</text>
<line x1="1221.50" y1="553.90" x2="1228.00" y2="553.90" stroke="#000" stroke-width="3.8" stroke-linecap="butt"/>
<text transform="translate(1208.59,560.90) scale(1.0000,1)" font-family="'Liberation Sans', sans-serif" font-weight="bold" font-size="19.77" fill="#000">2</text>
<line x1="1221.50" y1="495.05" x2="1228.00" y2="495.05" stroke="#000" stroke-width="3.8" stroke-linecap="butt"/>
<text transform="translate(1208.52,502.05) scale(1.0000,1)" font-family="'Liberation Sans', sans-serif" font-weight="bold" font-size="19.77" fill="#000">3</text>
<line x1="1221.50" y1="436.20" x2="1228.00" y2="436.20" stroke="#000" stroke-width="3.8" stroke-linecap="butt"/>
<text transform="translate(1207.91,443.20) scale(1.0000,1)" font-family="'Liberation Sans', sans-serif" font-weight="bold" font-size="19.77" fill="#000">4</text>
<line x1="1221.50" y1="377.35" x2="1228.00" y2="377.35" stroke="#000" stroke-width="3.8" stroke-linecap="butt"/>
<text transform="translate(1208.35,384.35) scale(1.0000,1)" font-family="'Liberation Sans', sans-serif" font-weight="bold" font-size="19.77" fill="#000">5</text>
<line x1="1307.60" y1="671.60" x2="1307.60" y2="678.60" stroke="#000" stroke-width="3.8" stroke-linecap="butt"/>
<line x1="1468.20" y1="671.60" x2="1468.20" y2="678.60" stroke="#000" stroke-width="3.8" stroke-linecap="butt"/>
<line x1="1628.90" y1="671.60" x2="1628.90" y2="678.60" stroke="#000" stroke-width="3.8" stroke-linecap="butt"/>
<text transform="translate(1282.07,701.78) scale(1.0140,1)" font-family="'Liberation Sans', sans-serif" font-weight="bold" font-size="22.46" fill="#000" >CTR</text>
<text transform="translate(1416.88,704.93) scale(0.9637,1)" font-family="'Liberation Sans', sans-serif" font-weight="bold" font-size="23.65" fill="#000" >Pilo 30</text>
<text transform="translate(1589.68,701.18) scale(1.0128,1)" font-family="'Liberation Sans', sans-serif" font-weight="bold" font-size="22.47" fill="#000" >Pilo 90</text>
<text transform="translate(1194.40,652.77) rotate(-90) scale(0.8735,1)" font-family="'Liberation Sans', sans-serif" font-weight="bold" font-size="37.21" fill="#000"><tspan x="0" y="0">ER-Alpha/</tspan><tspan x="177.70" y="-0.71" font-family="'Liberation Serif', serif" font-weight="normal" font-size="32.93" stroke="#000" stroke-width="1.0">β</tspan><tspan x="201.27" y="0" letter-spacing="-0.159">-Actin</tspan></text>
<polyline points="1280.40,364.50 1280.40,341.70 1600.90,341.70 1600.90,452.70" fill="none" stroke="#000" stroke-width="3.7" stroke-linejoin="miter"/>
<text transform="translate(1392.86,351.34) scale(1.0025,1)" font-family="'Liberation Sans', sans-serif" font-weight="normal" font-size="42.73" fill="#000"  stroke="#000" stroke-width="0.5" stroke-linejoin="round">*</text>
<text transform="translate(1414.80,351.34) scale(1.0025,1)" font-family="'Liberation Sans', sans-serif" font-weight="normal" font-size="42.73" fill="#000"  stroke="#000" stroke-width="0.5" stroke-linejoin="round">*</text>
<text transform="translate(1436.75,351.34) scale(1.0025,1)" font-family="'Liberation Sans', sans-serif" font-weight="normal" font-size="42.73" fill="#000"  stroke="#000" stroke-width="0.5" stroke-linejoin="round">*</text>
<polyline points="1282.50,411.20 1282.50,398.70 1340.10,398.70 1340.10,457.40" fill="none" stroke="#000" stroke-width="3.7" stroke-linejoin="miter"/>
<text transform="translate(1296.88,409.27) scale(1.0026,1)" font-family="'Liberation Sans', sans-serif" font-weight="normal" font-size="41.30" fill="#000"  stroke="#000" stroke-width="0.5" stroke-linejoin="round">*</text>
<text transform="translate(1314.28,409.27) scale(1.0026,1)" font-family="'Liberation Sans', sans-serif" font-weight="normal" font-size="41.30" fill="#000"  stroke="#000" stroke-width="0.5" stroke-linejoin="round">*</text>
<text transform="translate(1331.68,409.27) scale(1.0026,1)" font-family="'Liberation Sans', sans-serif" font-weight="normal" font-size="41.30" fill="#000"  stroke="#000" stroke-width="0.5" stroke-linejoin="round">*</text>
<polyline points="1437.40,458.40 1437.40,444.40 1495.30,444.40 1495.30,504.10" fill="none" stroke="#000" stroke-width="3.7" stroke-linejoin="miter"/>
<text transform="translate(1450.01,453.29) scale(1.0026,1)" font-family="'Liberation Sans', sans-serif" font-weight="normal" font-size="39.31" fill="#000"  stroke="#000" stroke-width="0.5" stroke-linejoin="round">*</text>
<text transform="translate(1469.13,453.29) scale(1.0026,1)" font-family="'Liberation Sans', sans-serif" font-weight="normal" font-size="39.31" fill="#000"  stroke="#000" stroke-width="0.5" stroke-linejoin="round">*</text>
<rect x="1712.7" y="386.8" width="25.8" height="15.2" fill="url(#hbl)" stroke="#000" stroke-width="5"/>
<rect x="1712.7" y="420.9" width="25.8" height="14.6" fill="#00008B" stroke="#000" stroke-width="5"/>
<text transform="translate(1752.40,401.70) scale(1.0534,1)" font-family="'Liberation Sans', sans-serif" font-weight="normal" font-size="31.21" fill="#000" >NOVX</text>
<text transform="translate(1749.51,444.89) scale(1.0674,1)" font-family="'Liberation Sans', sans-serif" font-weight="normal" font-size="31.50" fill="#000" >OVX</text>
<!-- panel c -->
<text transform="translate(23.65,783.38) scale(1.1804,1)" font-family="'DejaVu Sans', sans-serif" font-weight="bold" font-size="71.92" fill="#000" >c</text>
<text transform="translate(44.57,926.82) scale(1.0965,1)" font-family="'DejaVu Sans', sans-serif" font-weight="normal" font-size="27.18" fill="#000" >ER-Beta</text>
<text transform="translate(80.77,997.09) scale(0.7573,1)" font-family="'DejaVu Sans', sans-serif" font-weight="normal" font-size="33.47" fill="#000"  stroke="#000" stroke-width="0.5" stroke-linejoin="round">β-Actin</text>
<text transform="translate(233.76,846.02) rotate(-90) scale(0.6494,1)" font-family="'DejaVu Sans', sans-serif" font-weight="normal" font-size="34.90" fill="#000"  stroke="#000" stroke-width="0.5" stroke-linejoin="round">CTR</text>
<text transform="translate(300.16,851.70) rotate(-90) scale(0.5915,1)" font-family="'DejaVu Sans', sans-serif" font-weight="normal" font-size="34.51" fill="#000"  stroke="#000" stroke-width="0.5" stroke-linejoin="round">CTR-OVX</text>
<text transform="translate(376.17,846.87) rotate(-90) scale(0.6371,1)" font-family="'DejaVu Sans', sans-serif" font-weight="normal" font-size="33.98" fill="#000"  stroke="#000" stroke-width="0.5" stroke-linejoin="round">PILO 30</text>
<text transform="translate(455.66,857.64) rotate(-90) scale(0.5292,1)" font-family="'DejaVu Sans', sans-serif" font-weight="normal" font-size="34.51" fill="#000"  stroke="#000" stroke-width="0.5" stroke-linejoin="round">PILO 30-OVX</text>
<text transform="translate(514.66,844.56) rotate(-90) scale(0.6218,1)" font-family="'DejaVu Sans', sans-serif" font-weight="normal" font-size="34.51" fill="#000"  stroke="#000" stroke-width="0.5" stroke-linejoin="round">PILO 90</text>
<text transform="translate(585.26,851.07) rotate(-90) scale(0.5064,1)" font-family="'DejaVu Sans', sans-serif" font-weight="normal" font-size="34.51" fill="#000"  stroke="#000" stroke-width="0.5" stroke-linejoin="round">PILO 90-OVX</text>
<text transform="translate(636.48,916.38) scale(1.0255,1)" font-family="'DejaVu Sans', sans-serif" font-weight="normal" font-size="29.33" fill="#000" >55 kDa</text>
<text transform="translate(635.04,989.98) scale(1.0170,1)" font-family="'DejaVu Sans', sans-serif" font-weight="normal" font-size="29.33" fill="#000" >42 kDa</text>
<rect x="193" y="858.6" width="425.6" height="188" fill="#fff" stroke="#2a2a2a" stroke-width="2.2" rx="1.5"/>
<line x1="193.00" y1="952.30" x2="618.60" y2="952.30" stroke="#2a2a2a" stroke-width="2.2" stroke-linecap="butt"/>
<g clip-path="url(#c25)"><rect x="198.9" y="863.2" width="61.10" height="82.70" fill="#a8a8a8"/><ellipse cx="228" cy="912" rx="17" ry="12" fill="#8c8c8c" opacity="0.6" filter="url(#b5)" transform="rotate(0 228 912)"/><ellipse cx="228.2" cy="903.5" rx="19" ry="5.5" fill="#686868" opacity="0.85" filter="url(#b4)" transform="rotate(0 228.2 903.5)"/><ellipse cx="235" cy="872.5" rx="10" ry="4" fill="#8e8e8e" opacity="0.6" filter="url(#b4)" transform="rotate(0 235 872.5)"/><rect x="198.9" y="863.2" width="61.10" height="82.70" filter="url(#nz1)" opacity="0.09"/></g>
<g clip-path="url(#c26)"><rect x="268.2" y="863.2" width="59.20" height="84.80" fill="#dbdbdb"/><ellipse cx="298" cy="903" rx="22" ry="12" fill="#c2c2c2" opacity="0.7" filter="url(#b5)" transform="rotate(0 298 903)"/><g filter="url(#p3)" opacity="0.85"><rect x="268.2" y="863.2" width="59.20" height="84.80" fill="none"/><path d="M286,917 Q301,920 317,916" fill="none" stroke="#7c7c7c" stroke-width="5.5" stroke-linecap="round"/></g><g filter="url(#p4)" opacity="0.85"><rect x="268.2" y="863.2" width="59.20" height="84.80" fill="none"/><path d="M278,898.8 Q296,901 319.5,905.4" fill="none" stroke="#2c2c2c" stroke-width="5.5" stroke-linecap="round"/></g><g filter="url(#p4)" opacity="0.9"><rect x="268.2" y="863.2" width="59.20" height="84.80" fill="none"/><path d="M297,902 L316,904.8" fill="none" stroke="#000" stroke-width="5" stroke-linecap="round"/></g><rect x="268.2" y="863.2" width="59.20" height="84.80" filter="url(#nz2)" opacity="0.09"/></g>
<g clip-path="url(#c27)"><rect x="340" y="865.9" width="56.70" height="81.80" fill="#9c9c9c"/><g filter="url(#p5)" opacity="0.7"><rect x="340" y="865.9" width="56.70" height="81.80" fill="none"/><polygon points="347,900 385.5,900 380,914 366.4,933 352,914" fill="#5c5c5c"/></g><ellipse cx="366.4" cy="906" rx="17" ry="6" fill="#4e4e4e" opacity="0.6" filter="url(#b4)" transform="rotate(0 366.4 906)"/><ellipse cx="356.8" cy="876.9" rx="5" ry="5" fill="#7c7c7c" opacity="0.7" filter="url(#b4)" transform="rotate(0 356.8 876.9)"/><ellipse cx="384.2" cy="875.5" rx="5.5" ry="5.5" fill="#767676" opacity="0.75" filter="url(#b4)" transform="rotate(0 384.2 875.5)"/><rect x="340" y="865.9" width="56.70" height="81.80" filter="url(#nz3)" opacity="0.14"/></g>
<g clip-path="url(#c28)"><rect x="410.9" y="865.9" width="57.20" height="81.40" fill="#d8d8d8"/><ellipse cx="434" cy="903" rx="24" ry="12" fill="#bebebe" opacity="0.7" filter="url(#b5)" transform="rotate(0 434 903)"/><g filter="url(#p4)" opacity="0.8"><rect x="410.9" y="865.9" width="57.20" height="81.40" fill="none"/><path d="M414,909.7 Q436,910.5 455,905.4" fill="none" stroke="#343434" stroke-width="5.2" stroke-linecap="round"/></g><g filter="url(#p4)" opacity="0.7"><rect x="410.9" y="865.9" width="57.20" height="81.40" fill="none"/><path d="M414.5,897.6 Q432,898 449,895.8 T467,892" fill="none" stroke="#2a2a2a" stroke-width="3.2" stroke-linecap="round"/></g><g filter="url(#p4)" opacity="0.9"><rect x="410.9" y="865.9" width="57.20" height="81.40" fill="none"/><path d="M417,897.8 Q432,898.4 447,896" fill="none" stroke="#050505" stroke-width="5.6" stroke-linecap="round"/></g><rect x="410.9" y="865.9" width="57.20" height="81.40" filter="url(#nz0)" opacity="0.09"/></g>
<g clip-path="url(#c29)"><rect x="481" y="863.9" width="60.60" height="83.40" fill="#9e9e9e"/><g filter="url(#p5)" opacity="0.7"><rect x="481" y="863.9" width="60.60" height="83.40" fill="none"/><polygon points="490,893 527,893 522,908 508,927 495,908" fill="#707070"/></g><ellipse cx="508.5" cy="900" rx="16" ry="7" fill="#6c6c6c" opacity="0.55" filter="url(#b5)" transform="rotate(0 508.5 900)"/><rect x="481" y="863.9" width="60.60" height="83.40" filter="url(#nz1)" opacity="0.14"/></g>
<g clip-path="url(#c30)"><rect x="552.1" y="863.2" width="61.00" height="85.50" fill="#dedede"/><ellipse cx="582" cy="905" rx="24" ry="14" fill="#c4c4c4" opacity="0.7" filter="url(#b5)" transform="rotate(0 582 905)"/><g filter="url(#p4)" opacity="0.85"><rect x="552.1" y="863.2" width="61.00" height="85.50" fill="none"/><path d="M564.5,913 Q581,913 597,907.8" fill="none" stroke="#242424" stroke-width="6" stroke-linecap="round"/></g><g filter="url(#p4)" opacity="0.93"><rect x="552.1" y="863.2" width="61.00" height="85.50" fill="none"/><path d="M566,901.4 Q582,901 598,896.2" fill="none" stroke="#000" stroke-width="7" stroke-linecap="round"/></g><g filter="url(#p3)" opacity="0.8"><rect x="552.1" y="863.2" width="61.00" height="85.50" fill="none"/><path d="M570,942.5 Q582,942 594,938.5" fill="none" stroke="#b0b0b0" stroke-width="3" stroke-linecap="round"/></g><rect x="552.1" y="863.2" width="61.00" height="85.50" filter="url(#nz2)" opacity="0.09"/></g>
<g clip-path="url(#c31)"><rect x="200.7" y="959.6" width="61.10" height="78.40" fill="url(#g31)"/><ellipse cx="221.5" cy="985" rx="5" ry="13" fill="#aaa" opacity="0.7" filter="url(#b4)" transform="rotate(-15 221.5 985)"/><ellipse cx="228.5" cy="1006.8" rx="19.5" ry="3.8" fill="#3a3a3a" opacity="0.9" filter="url(#b3)" transform="rotate(3 228.5 1006.8)"/><ellipse cx="235" cy="1007.6" rx="10" ry="3.4" fill="#141414" opacity="0.85" filter="url(#b3)" transform="rotate(3 235 1007.6)"/><rect x="200.7" y="959.6" width="61.10" height="78.40" filter="url(#nz3)" opacity="0.09"/></g>
<g clip-path="url(#c32)"><rect x="268.2" y="957.8" width="60.60" height="81.80" fill="url(#g32)"/><ellipse cx="298" cy="975" rx="18" ry="10" fill="#b0b0b0" opacity="0.6" filter="url(#b5)" transform="rotate(0 298 975)"/><ellipse cx="272" cy="1036" rx="12" ry="10" fill="#4a4a4a" opacity="0.7" filter="url(#b5)" transform="rotate(0 272 1036)"/><ellipse cx="287.5" cy="1000.4" rx="8.5" ry="4.4" fill="#000" opacity="0.98" filter="url(#b3)" transform="rotate(0 287.5 1000.4)"/><ellipse cx="301.5" cy="998.9" rx="11.5" ry="6" fill="#000" opacity="0.98" filter="url(#b3)" transform="rotate(-5 301.5 998.9)"/><ellipse cx="294" cy="1000.6" rx="6" ry="3.6" fill="#000" opacity="0.95" filter="url(#b2)" transform="rotate(0 294 1000.6)"/><rect x="268.2" y="957.8" width="60.60" height="81.80" filter="url(#nz0)" opacity="0.18"/></g>
<g clip-path="url(#c33)"><rect x="337.9" y="957.8" width="62.70" height="81.80" fill="#bbbbbb"/><ellipse cx="362" cy="978" rx="5" ry="14" fill="#a8a8a8" opacity="0.7" filter="url(#b4)" transform="rotate(0 362 978)"/><ellipse cx="370" cy="1004.7" rx="21" ry="3.7" fill="#3a3a3a" opacity="0.9" filter="url(#b3)" transform="rotate(0 370 1004.7)"/><ellipse cx="376" cy="1005" rx="10.5" ry="3.3" fill="#121212" opacity="0.88" filter="url(#b3)" transform="rotate(0 376 1005)"/><rect x="337.9" y="957.8" width="62.70" height="81.80" filter="url(#nz1)" opacity="0.09"/></g>
<g clip-path="url(#c34)"><rect x="410.9" y="957.9" width="65.00" height="81.70" fill="#c5c5c5"/><ellipse cx="446" cy="1001.4" rx="11" ry="2.8" fill="#7e7e7e" opacity="0.85" filter="url(#b3)" transform="rotate(-10 446 1001.4)"/><rect x="410.9" y="957.9" width="65.00" height="81.70" filter="url(#nz2)" opacity="0.09"/></g>
<g clip-path="url(#c35)"><rect x="483.2" y="957.9" width="58.40" height="84.50" fill="url(#g35)"/><ellipse cx="517.6" cy="971.3" rx="4" ry="5" fill="#999" opacity="0.7" filter="url(#b3)" transform="rotate(20 517.6 971.3)"/><g filter="url(#p3)" opacity="0.85"><rect x="483.2" y="957.9" width="58.40" height="84.50" fill="none"/><path d="M521,994.5 Q531,991 541,990.6" fill="none" stroke="#303030" stroke-width="2.6" stroke-linecap="round"/></g><ellipse cx="540.5" cy="991" rx="3" ry="3.4" fill="#111" opacity="0.9" filter="url(#b2)" transform="rotate(0 540.5 991)"/><ellipse cx="506.7" cy="998.6" rx="17" ry="6.4" fill="#000" opacity="0.98" filter="url(#b2)" transform="rotate(-8 506.7 998.6)"/><rect x="483.2" y="957.9" width="58.40" height="84.50" filter="url(#nz3)" opacity="0.09"/></g>
<g clip-path="url(#c36)"><rect x="552.1" y="959.6" width="64.70" height="82.80" fill="url(#g36)"/><ellipse cx="615" cy="975" rx="6" ry="14" fill="#8c8c8c" opacity="0.7" filter="url(#b5)" transform="rotate(0 615 975)"/><ellipse cx="586" cy="1006.1" rx="15" ry="5" fill="#030303" opacity="0.97" filter="url(#b2)" transform="rotate(-14 586 1006.1)"/><rect x="552.1" y="959.6" width="64.70" height="82.80" filter="url(#nz0)" opacity="0.09"/></g>
<rect x="193.00" y="1261.70" width="41.10" height="127.50" fill="url(#hr)" stroke="#000" stroke-width="4.6"/>
<rect x="254.90" y="1300.90" width="41.10" height="88.30" fill="#A40000" stroke="#000" stroke-width="4.6"/>
<rect x="257.80" y="1303.80" width="35.30" height="85.40" fill="none" stroke="#c83636" stroke-width="1.3" opacity="0.75"/>
<rect x="358.30" y="1227.50" width="41.30" height="161.70" fill="url(#hr)" stroke="#000" stroke-width="4.6"/>
<rect x="420.60" y="1291.50" width="40.90" height="97.70" fill="#A40000" stroke="#000" stroke-width="4.6"/>
<rect x="423.50" y="1294.40" width="35.10" height="94.80" fill="none" stroke="#c83636" stroke-width="1.3" opacity="0.75"/>
<rect x="523.00" y="1135.10" width="41.20" height="254.10" fill="url(#hr)" stroke="#000" stroke-width="4.6"/>
<rect x="585.90" y="1311.60" width="40.30" height="77.60" fill="#A40000" stroke="#000" stroke-width="4.6"/>
<rect x="588.80" y="1314.50" width="34.50" height="74.70" fill="none" stroke="#c83636" stroke-width="1.3" opacity="0.75"/>
<line x1="213.60" y1="1232.00" x2="213.60" y2="1290.20" stroke="#000" stroke-width="4.4" stroke-linecap="butt"/>
<line x1="203.60" y1="1232.00" x2="223.60" y2="1232.00" stroke="#000" stroke-width="4.4" stroke-linecap="butt"/>
<line x1="203.60" y1="1290.20" x2="223.60" y2="1290.20" stroke="#000" stroke-width="4.4" stroke-linecap="butt"/>
<line x1="275.30" y1="1289.20" x2="275.30" y2="1312.80" stroke="#000" stroke-width="4.4" stroke-linecap="butt"/>
<line x1="265.30" y1="1289.20" x2="285.30" y2="1289.20" stroke="#000" stroke-width="4.4" stroke-linecap="butt"/>
<line x1="265.30" y1="1312.80" x2="285.30" y2="1312.80" stroke="#000" stroke-width="4.4" stroke-linecap="butt"/>
<line x1="378.80" y1="1196.30" x2="378.80" y2="1256.90" stroke="#000" stroke-width="4.4" stroke-linecap="butt"/>
<line x1="368.80" y1="1196.30" x2="388.80" y2="1196.30" stroke="#000" stroke-width="4.4" stroke-linecap="butt"/>
<line x1="368.80" y1="1256.90" x2="388.80" y2="1256.90" stroke="#000" stroke-width="4.4" stroke-linecap="butt"/>
<line x1="440.80" y1="1272.80" x2="440.80" y2="1310.80" stroke="#000" stroke-width="4.4" stroke-linecap="butt"/>
<line x1="430.80" y1="1272.80" x2="450.80" y2="1272.80" stroke="#000" stroke-width="4.4" stroke-linecap="butt"/>
<line x1="430.80" y1="1310.80" x2="450.80" y2="1310.80" stroke="#000" stroke-width="4.4" stroke-linecap="butt"/>
<line x1="544.10" y1="1111.00" x2="544.10" y2="1160.40" stroke="#000" stroke-width="4.4" stroke-linecap="butt"/>
<line x1="534.10" y1="1111.00" x2="554.10" y2="1111.00" stroke="#000" stroke-width="4.4" stroke-linecap="butt"/>
<line x1="534.10" y1="1160.40" x2="554.10" y2="1160.40" stroke="#000" stroke-width="4.4" stroke-linecap="butt"/>
<line x1="606.30" y1="1304.20" x2="606.30" y2="1318.90" stroke="#000" stroke-width="4.4" stroke-linecap="butt"/>
<line x1="596.30" y1="1304.20" x2="616.30" y2="1304.20" stroke="#000" stroke-width="4.4" stroke-linecap="butt"/>
<line x1="596.30" y1="1318.90" x2="616.30" y2="1318.90" stroke="#000" stroke-width="4.4" stroke-linecap="butt"/>
<line x1="161.40" y1="1057.60" x2="161.40" y2="1391.20" stroke="#000" stroke-width="4.0" stroke-linecap="butt"/>
<line x1="154.90" y1="1389.20" x2="659.30" y2="1389.20" stroke="#000" stroke-width="4.0" stroke-linecap="butt"/>
<line x1="154.90" y1="1389.20" x2="161.40" y2="1389.20" stroke="#000" stroke-width="3.8" stroke-linecap="butt"/>
<text transform="translate(141.39,1396.10) scale(1.0000,1)" font-family="'Liberation Sans', sans-serif" font-weight="bold" font-size="19.63" fill="#000">0</text>
<line x1="154.90" y1="1279.20" x2="161.40" y2="1279.20" stroke="#000" stroke-width="3.8" stroke-linecap="butt"/>
<text transform="translate(141.13,1286.10) scale(1.0000,1)" font-family="'Liberation Sans', sans-serif" font-weight="bold" font-size="19.63" fill="#000">1</text>
<line x1="154.90" y1="1169.20" x2="161.40" y2="1169.20" stroke="#000" stroke-width="3.8" stroke-linecap="butt"/>
<text transform="translate(141.37,1176.10) scale(1.0000,1)" font-family="'Liberation Sans', sans-serif" font-weight="bold" font-size="19.63" fill="#000">2</text>
<line x1="154.90" y1="1059.20" x2="161.40" y2="1059.20" stroke="#000" stroke-width="3.8" stroke-linecap="butt"/>
<text transform="translate(141.29,1066.10) scale(1.0000,1)" font-family="'Liberation Sans', sans-serif" font-weight="bold" font-size="19.63" fill="#000">3</text>
<line x1="244.10" y1="1389.20" x2="244.10" y2="1396.40" stroke="#000" stroke-width="3.8" stroke-linecap="butt"/>
<line x1="408.70" y1="1389.20" x2="408.70" y2="1396.40" stroke="#000" stroke-width="3.8" stroke-linecap="butt"/>
<line x1="574.00" y1="1389.20" x2="574.00" y2="1396.40" stroke="#000" stroke-width="3.8" stroke-linecap="butt"/>
<text transform="translate(219.21,1421.37) scale(0.9276,1)" font-family="'Liberation Sans', sans-serif" font-weight="bold" font-size="23.30" fill="#000" >CTR</text>
<text transform="translate(368.31,1420.73) scale(0.9433,1)" font-family="'Liberation Sans', sans-serif" font-weight="bold" font-size="23.65" fill="#000" >Pilo 30</text>
<text transform="translate(529.71,1418.38) scale(0.9885,1)" font-family="'Liberation Sans', sans-serif" font-weight="bold" font-size="22.47" fill="#000" >Pilo 90</text>
<text transform="translate(123.90,1363.43) rotate(-90) scale(0.8878,1)" font-family="'Liberation Sans', sans-serif" font-weight="bold" font-size="37.50" fill="#000"><tspan x="0" y="0">ER-Beta/</tspan><tspan x="156.48" y="-0.28" font-family="'Liberation Serif', serif" font-weight="normal" font-size="33.26" stroke="#000" stroke-width="1.0">β</tspan><tspan x="181.60" y="0" letter-spacing="0.100">-Actin</tspan></text>
<polyline points="213.80,1150.80 213.80,1080.40 540.50,1080.40 540.50,1098.40" fill="none" stroke="#000" stroke-width="3.7" stroke-linejoin="miter"/>
<text transform="translate(356.63,1089.21) scale(1.0026,1)" font-family="'Liberation Sans', sans-serif" font-weight="normal" font-size="38.45" fill="#000"  stroke="#000" stroke-width="0.5" stroke-linejoin="round">*</text>
<text transform="translate(378.25,1089.21) scale(1.0026,1)" font-family="'Liberation Sans', sans-serif" font-weight="normal" font-size="38.45" fill="#000"  stroke="#000" stroke-width="0.5" stroke-linejoin="round">*</text>
<polyline points="549.50,1093.90 549.50,1084.90 610.80,1084.90 610.80,1132.80" fill="none" stroke="#000" stroke-width="3.7" stroke-linejoin="miter"/>
<text transform="translate(562.25,1093.23) scale(1.0026,1)" font-family="'Liberation Sans', sans-serif" font-weight="normal" font-size="37.03" fill="#000"  stroke="#000" stroke-width="0.5" stroke-linejoin="round">*</text>
<text transform="translate(580.52,1093.23) scale(1.0026,1)" font-family="'Liberation Sans', sans-serif" font-weight="normal" font-size="37.03" fill="#000"  stroke="#000" stroke-width="0.5" stroke-linejoin="round">*</text>
<text transform="translate(598.78,1093.23) scale(1.0026,1)" font-family="'Liberation Sans', sans-serif" font-weight="normal" font-size="37.03" fill="#000"  stroke="#000" stroke-width="0.5" stroke-linejoin="round">*</text>
<rect x="676.8" y="1073.2" width="27.1" height="16.6" fill="url(#hrl)" stroke="#000" stroke-width="4.8"/>
<rect x="676.8" y="1111.2" width="27.1" height="16.5" fill="#A80000" stroke="#000" stroke-width="4.8"/>
<text transform="translate(718.34,1091.19) scale(0.9961,1)" font-family="'Liberation Sans', sans-serif" font-weight="normal" font-size="31.36" fill="#000" >NOVX</text>
<text transform="translate(718.91,1126.90) scale(1.0127,1)" font-family="'Liberation Sans', sans-serif" font-weight="normal" font-size="31.07" fill="#000" >OVX</text>
<!-- panel d -->
<text transform="translate(1095.45,753.62) scale(1.0080,1)" font-family="'DejaVu Sans', sans-serif" font-weight="bold" font-size="76.23" fill="#000" >d</text>
<rect x="1267.55" y="925.85" width="23.00" height="289.95" fill="url(#gbl)" stroke="#33332e" stroke-width="4.7"/>
<rect x="1358.85" y="1083.65" width="22.80" height="132.15" fill="url(#gbl)" stroke="#33332e" stroke-width="4.7"/>
<rect x="1449.95" y="1007.85" width="22.80" height="207.95" fill="url(#gbl)" stroke="#33332e" stroke-width="4.7"/>
<rect x="1541.15" y="1118.95" width="22.80" height="96.85" fill="url(#gbl)" stroke="#33332e" stroke-width="4.7"/>
<rect x="1631.75" y="1176.85" width="22.80" height="38.95" fill="url(#gbl)" stroke="#33332e" stroke-width="4.7"/>
<rect x="1722.95" y="1121.85" width="22.80" height="93.95" fill="url(#gbl)" stroke="#33332e" stroke-width="4.7"/>
<rect x="1301.65" y="1126.25" width="23.40" height="89.55" fill="url(#hd)" stroke="#000" stroke-width="4.7"/>
<rect x="1392.95" y="1153.65" width="22.80" height="62.15" fill="url(#hd)" stroke="#000" stroke-width="4.7"/>
<rect x="1484.15" y="1102.45" width="22.80" height="113.35" fill="url(#hd)" stroke="#000" stroke-width="4.7"/>
<rect x="1574.75" y="1147.35" width="22.80" height="68.45" fill="url(#hd)" stroke="#000" stroke-width="4.7"/>
<rect x="1665.85" y="1037.35" width="22.80" height="178.45" fill="url(#hd)" stroke="#000" stroke-width="4.7"/>
<rect x="1757.05" y="1161.75" width="22.80" height="54.05" fill="url(#hd)" stroke="#000" stroke-width="4.7"/>
<line x1="1278.80" y1="884.70" x2="1278.80" y2="968.30" stroke="#38383a" stroke-width="4.8" stroke-linecap="butt"/>
<line x1="1273.05" y1="884.70" x2="1284.55" y2="884.70" stroke="#38383a" stroke-width="4.8" stroke-linecap="butt"/>
<line x1="1273.05" y1="968.30" x2="1284.55" y2="968.30" stroke="#38383a" stroke-width="4.8" stroke-linecap="butt"/>
<line x1="1370.40" y1="1058.70" x2="1370.40" y2="1108.80" stroke="#38383a" stroke-width="4.8" stroke-linecap="butt"/>
<line x1="1364.65" y1="1058.70" x2="1376.15" y2="1058.70" stroke="#38383a" stroke-width="4.8" stroke-linecap="butt"/>
<line x1="1364.65" y1="1108.80" x2="1376.15" y2="1108.80" stroke="#38383a" stroke-width="4.8" stroke-linecap="butt"/>
<line x1="1461.20" y1="965.20" x2="1461.20" y2="1049.50" stroke="#38383a" stroke-width="4.8" stroke-linecap="butt"/>
<line x1="1455.45" y1="965.20" x2="1466.95" y2="965.20" stroke="#38383a" stroke-width="4.8" stroke-linecap="butt"/>
<line x1="1455.45" y1="1049.50" x2="1466.95" y2="1049.50" stroke="#38383a" stroke-width="4.8" stroke-linecap="butt"/>
<line x1="1552.30" y1="1110.20" x2="1552.30" y2="1127.60" stroke="#38383a" stroke-width="4.8" stroke-linecap="butt"/>
<line x1="1546.55" y1="1110.20" x2="1558.05" y2="1110.20" stroke="#38383a" stroke-width="4.8" stroke-linecap="butt"/>
<line x1="1546.55" y1="1127.60" x2="1558.05" y2="1127.60" stroke="#38383a" stroke-width="4.8" stroke-linecap="butt"/>
<line x1="1643.10" y1="1160.00" x2="1643.10" y2="1194.70" stroke="#38383a" stroke-width="4.8" stroke-linecap="butt"/>
<line x1="1637.35" y1="1160.00" x2="1648.85" y2="1160.00" stroke="#38383a" stroke-width="4.8" stroke-linecap="butt"/>
<line x1="1637.35" y1="1194.70" x2="1648.85" y2="1194.70" stroke="#38383a" stroke-width="4.8" stroke-linecap="butt"/>
<line x1="1734.30" y1="1109.40" x2="1734.30" y2="1134.80" stroke="#38383a" stroke-width="4.8" stroke-linecap="butt"/>
<line x1="1728.55" y1="1109.40" x2="1740.05" y2="1109.40" stroke="#38383a" stroke-width="4.8" stroke-linecap="butt"/>
<line x1="1728.55" y1="1134.80" x2="1740.05" y2="1134.80" stroke="#38383a" stroke-width="4.8" stroke-linecap="butt"/>
<line x1="1313.30" y1="1106.50" x2="1313.30" y2="1146.50" stroke="#000" stroke-width="4.8" stroke-linecap="butt"/>
<line x1="1307.55" y1="1106.50" x2="1319.05" y2="1106.50" stroke="#000" stroke-width="4.8" stroke-linecap="butt"/>
<line x1="1307.55" y1="1146.50" x2="1319.05" y2="1146.50" stroke="#000" stroke-width="4.8" stroke-linecap="butt"/>
<line x1="1404.30" y1="1142.10" x2="1404.30" y2="1163.80" stroke="#000" stroke-width="4.8" stroke-linecap="butt"/>
<line x1="1398.55" y1="1142.10" x2="1410.05" y2="1142.10" stroke="#000" stroke-width="4.8" stroke-linecap="butt"/>
<line x1="1398.55" y1="1163.80" x2="1410.05" y2="1163.80" stroke="#000" stroke-width="4.8" stroke-linecap="butt"/>
<line x1="1495.50" y1="1080.70" x2="1495.50" y2="1123.30" stroke="#000" stroke-width="4.8" stroke-linecap="butt"/>
<line x1="1489.75" y1="1080.70" x2="1501.25" y2="1080.70" stroke="#000" stroke-width="4.8" stroke-linecap="butt"/>
<line x1="1489.75" y1="1123.30" x2="1501.25" y2="1123.30" stroke="#000" stroke-width="4.8" stroke-linecap="butt"/>
<line x1="1586.10" y1="1134.00" x2="1586.10" y2="1160.90" stroke="#000" stroke-width="4.8" stroke-linecap="butt"/>
<line x1="1580.35" y1="1134.00" x2="1591.85" y2="1134.00" stroke="#000" stroke-width="4.8" stroke-linecap="butt"/>
<line x1="1580.35" y1="1160.90" x2="1591.85" y2="1160.90" stroke="#000" stroke-width="4.8" stroke-linecap="butt"/>
<line x1="1677.20" y1="1019.70" x2="1677.20" y2="1053.80" stroke="#000" stroke-width="4.8" stroke-linecap="butt"/>
<line x1="1671.45" y1="1019.70" x2="1682.95" y2="1019.70" stroke="#000" stroke-width="4.8" stroke-linecap="butt"/>
<line x1="1671.45" y1="1053.80" x2="1682.95" y2="1053.80" stroke="#000" stroke-width="4.8" stroke-linecap="butt"/>
<line x1="1768.40" y1="1155.70" x2="1768.40" y2="1166.70" stroke="#000" stroke-width="4.8" stroke-linecap="butt"/>
<line x1="1762.65" y1="1155.70" x2="1774.15" y2="1155.70" stroke="#000" stroke-width="4.8" stroke-linecap="butt"/>
<line x1="1762.65" y1="1166.70" x2="1774.15" y2="1166.70" stroke="#000" stroke-width="4.8" stroke-linecap="butt"/>
<line x1="1250.80" y1="826.50" x2="1250.80" y2="1217.60" stroke="#000" stroke-width="3.6" stroke-linecap="butt"/>
<line x1="1237.20" y1="1215.80" x2="1798.70" y2="1215.80" stroke="#000" stroke-width="3.6" stroke-linecap="butt"/>
<line x1="1241.00" y1="1215.80" x2="1250.80" y2="1215.80" stroke="#000" stroke-width="3.5" stroke-linecap="butt"/>
<text transform="translate(1221.74,1226.40) scale(0.9200,1)" font-family="'Liberation Sans', sans-serif" font-weight="bold" font-size="30.08" fill="#000">0</text>
<line x1="1241.00" y1="1138.30" x2="1250.80" y2="1138.30" stroke="#000" stroke-width="3.5" stroke-linecap="butt"/>
<text transform="translate(1221.38,1148.90) scale(0.9200,1)" font-family="'Liberation Sans', sans-serif" font-weight="bold" font-size="30.08" fill="#000">1</text>
<line x1="1241.00" y1="1060.80" x2="1250.80" y2="1060.80" stroke="#000" stroke-width="3.5" stroke-linecap="butt"/>
<text transform="translate(1221.72,1071.40) scale(0.9200,1)" font-family="'Liberation Sans', sans-serif" font-weight="bold" font-size="30.08" fill="#000">2</text>
<line x1="1241.00" y1="983.30" x2="1250.80" y2="983.30" stroke="#000" stroke-width="3.5" stroke-linecap="butt"/>
<text transform="translate(1221.61,993.90) scale(0.9200,1)" font-family="'Liberation Sans', sans-serif" font-weight="bold" font-size="30.08" fill="#000">3</text>
<line x1="1241.00" y1="905.80" x2="1250.80" y2="905.80" stroke="#000" stroke-width="3.5" stroke-linecap="butt"/>
<text transform="translate(1220.76,916.40) scale(0.9200,1)" font-family="'Liberation Sans', sans-serif" font-weight="bold" font-size="30.08" fill="#000">4</text>
<line x1="1241.00" y1="828.30" x2="1250.80" y2="828.30" stroke="#000" stroke-width="3.5" stroke-linecap="butt"/>
<text transform="translate(1221.38,838.90) scale(0.9200,1)" font-family="'Liberation Sans', sans-serif" font-weight="bold" font-size="30.08" fill="#000">5</text>
<line x1="1296.00" y1="1215.80" x2="1296.00" y2="1226.20" stroke="#000" stroke-width="3.5" stroke-linecap="butt"/>
<line x1="1386.30" y1="1215.80" x2="1386.30" y2="1226.20" stroke="#000" stroke-width="3.5" stroke-linecap="butt"/>
<line x1="1477.30" y1="1215.80" x2="1477.30" y2="1226.20" stroke="#000" stroke-width="3.5" stroke-linecap="butt"/>
<line x1="1568.40" y1="1215.80" x2="1568.40" y2="1226.20" stroke="#000" stroke-width="3.5" stroke-linecap="butt"/>
<line x1="1659.20" y1="1215.80" x2="1659.20" y2="1226.20" stroke="#000" stroke-width="3.5" stroke-linecap="butt"/>
<line x1="1750.40" y1="1215.80" x2="1750.40" y2="1226.20" stroke="#000" stroke-width="3.5" stroke-linecap="butt"/>
<text transform="translate(1304.41,1289.87) rotate(-90) scale(0.9548,1)" font-family="'Liberation Sans', sans-serif" font-weight="bold" font-size="29.94" fill="#000" >CTR</text>
<text transform="translate(1394.70,1364.61) rotate(-90) scale(0.9656,1)" font-family="'Liberation Sans', sans-serif" font-weight="bold" font-size="30.65" fill="#000" >CTR-OVX</text>
<text transform="translate(1485.76,1341.70) rotate(-90) scale(0.9766,1)" font-family="'Liberation Sans', sans-serif" font-weight="bold" font-size="30.59" fill="#000" >PILO 30</text>
<text transform="translate(1576.96,1415.99) rotate(-90) scale(0.9734,1)" font-family="'Liberation Sans', sans-serif" font-weight="bold" font-size="30.59" fill="#000" >PILO 30-OVX</text>
<text transform="translate(1668.20,1341.68) rotate(-90) scale(0.9664,1)" font-family="'Liberation Sans', sans-serif" font-weight="bold" font-size="30.65" fill="#000" >PILO 90</text>
<text transform="translate(1759.30,1416.00) rotate(-90) scale(0.9762,1)" font-family="'Liberation Sans', sans-serif" font-weight="bold" font-size="30.65" fill="#000" >PILO 90-OVX</text>
<text transform="translate(1199.46,1096.75) rotate(-90) scale(1.0308,1)" font-family="'Liberation Sans', sans-serif" font-weight="bold" font-size="34.32" fill="#000" >O.D.mean</text>
<polyline points="1263.40,859.00 1263.40,825.50 1318.10,825.50 1318.10,859.00" fill="none" stroke="#000" stroke-width="3.8" stroke-linejoin="miter"/>
<text transform="translate(1268.20,835.59) scale(1.0025,1)" font-family="'Liberation Sans', sans-serif" font-weight="normal" font-size="46.43" fill="#000"  stroke="#000" stroke-width="0.5" stroke-linejoin="round">*</text>
<text transform="translate(1285.18,835.59) scale(1.0025,1)" font-family="'Liberation Sans', sans-serif" font-weight="normal" font-size="46.43" fill="#000"  stroke="#000" stroke-width="0.5" stroke-linejoin="round">*</text>
<text transform="translate(1302.16,835.59) scale(1.0025,1)" font-family="'Liberation Sans', sans-serif" font-weight="normal" font-size="46.43" fill="#000"  stroke="#000" stroke-width="0.5" stroke-linejoin="round">*</text>
<polyline points="1458.40,864.80 1458.40,831.50 1507.80,831.50 1507.80,878.40" fill="none" stroke="#000" stroke-width="3.8" stroke-linejoin="miter"/>
<text transform="translate(1462.52,845.61) scale(1.0025,1)" font-family="'Liberation Sans', sans-serif" font-weight="normal" font-size="45.29" fill="#000"  stroke="#000" stroke-width="0.5" stroke-linejoin="round">*</text>
<text transform="translate(1480.49,845.61) scale(1.0025,1)" font-family="'Liberation Sans', sans-serif" font-weight="normal" font-size="45.29" fill="#000"  stroke="#000" stroke-width="0.5" stroke-linejoin="round">*</text>
<polyline points="1629.80,870.60 1629.80,830.80 1677.10,830.80 1677.10,864.70" fill="none" stroke="#000" stroke-width="3.8" stroke-linejoin="miter"/>
<text transform="translate(1620.92,840.82) scale(1.0025,1)" font-family="'Liberation Sans', sans-serif" font-weight="normal" font-size="44.44" fill="#000"  stroke="#000" stroke-width="0.5" stroke-linejoin="round">*</text>
<text transform="translate(1644.22,840.82) scale(1.0025,1)" font-family="'Liberation Sans', sans-serif" font-weight="normal" font-size="44.44" fill="#000"  stroke="#000" stroke-width="0.5" stroke-linejoin="round">*</text>
<text transform="translate(1664.42,840.82) scale(1.0025,1)" font-family="'Liberation Sans', sans-serif" font-weight="normal" font-size="44.44" fill="#000"  stroke="#000" stroke-width="0.5" stroke-linejoin="round">*</text>
<rect x="1811.8" y="845" width="38.4" height="19.9" fill="#0000ff" stroke="#2e2e2e" stroke-width="5.2"/>
<rect x="1811.8" y="889.7" width="38.4" height="20.1" fill="url(#hdl)" stroke="#000" stroke-width="5.2"/>
<text transform="translate(1872.21,865.08) scale(0.8861,1)" font-family="'Liberation Sans', sans-serif" font-weight="normal" font-size="33.58" fill="#000"  stroke="#000" stroke-width="0.5" stroke-linejoin="round">ER-Alpha</text>
<text transform="translate(1872.19,910.20) scale(0.8420,1)" font-family="'Liberation Sans', sans-serif" font-weight="normal" font-size="35.69" fill="#000"  stroke="#000" stroke-width="0.5" stroke-linejoin="round">ER-Beta</text>
</svg>
</body></html>
